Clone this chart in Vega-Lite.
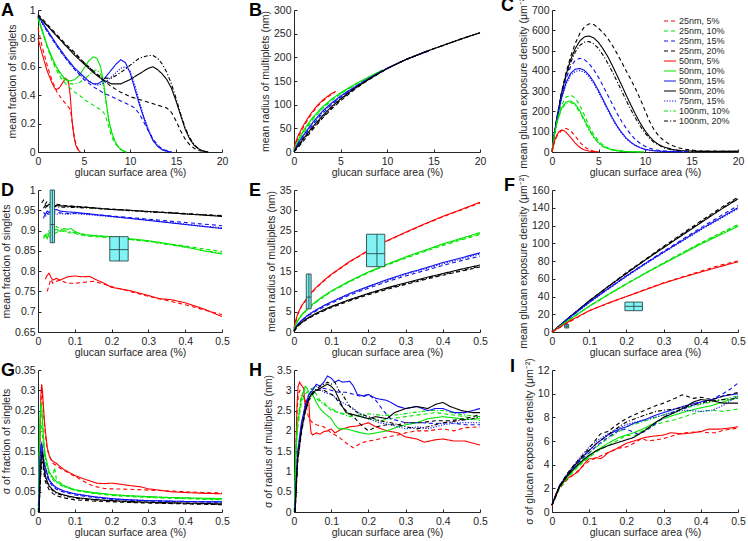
{
"$schema":"https://vega.github.io/schema/vega-lite/v6.json",
"padding":{"left":1,"top":-7,"right":2,"bottom":2},
"background":"white",
"bounds":"flush",
"columns":3,
"spacing":{"row":38,"column":72},
"resolve":{"scale":{"color":"independent","strokeDash":"independent"},"legend":{"color":"independent","strokeDash":"independent"}},
"datasets":{
"A":[
{"s":"25nm, 5%","x":0,"y":0.87},{"s":"25nm, 5%","x":0.5,"y":0.73},{"s":"25nm, 5%","x":1,"y":0.61},{"s":"25nm, 5%","x":1.5,"y":0.51},{"s":"25nm, 5%","x":2,"y":0.43},{"s":"25nm, 5%","x":2.5,"y":0.38},{"s":"25nm, 5%","x":3,"y":0.34},{"s":"25nm, 5%","x":3.4,"y":0.31},{"s":"25nm, 5%","x":3.6,"y":0.27},{"s":"25nm, 5%","x":3.8,"y":0.17},{"s":"25nm, 5%","x":4,"y":0.09},{"s":"25nm, 5%","x":4.2,"y":0.04},{"s":"25nm, 5%","x":4.4,"y":0.015},{"s":"25nm, 5%","x":4.6,"y":0},
{"s":"50nm, 5%","x":0,"y":0.8},{"s":"50nm, 5%","x":0.5,"y":0.68},{"s":"50nm, 5%","x":1,"y":0.57},{"s":"50nm, 5%","x":1.5,"y":0.49},{"s":"50nm, 5%","x":1.8,"y":0.45},{"s":"50nm, 5%","x":2,"y":0.44},{"s":"50nm, 5%","x":2.3,"y":0.45},{"s":"50nm, 5%","x":2.6,"y":0.48},{"s":"50nm, 5%","x":3,"y":0.52},{"s":"50nm, 5%","x":3.3,"y":0.5},{"s":"50nm, 5%","x":3.5,"y":0.4},{"s":"50nm, 5%","x":3.7,"y":0.22},{"s":"50nm, 5%","x":3.9,"y":0.11},{"s":"50nm, 5%","x":4.1,"y":0.05},{"s":"50nm, 5%","x":4.3,"y":0.02},{"s":"50nm, 5%","x":4.6,"y":0},
{"s":"25nm, 10%","x":0,"y":0.95},{"s":"25nm, 10%","x":0.5,"y":0.84},{"s":"25nm, 10%","x":1,"y":0.74},{"s":"25nm, 10%","x":1.5,"y":0.65},{"s":"25nm, 10%","x":2,"y":0.58},{"s":"25nm, 10%","x":2.5,"y":0.52},{"s":"25nm, 10%","x":3,"y":0.48},{"s":"25nm, 10%","x":3.5,"y":0.45},{"s":"25nm, 10%","x":4,"y":0.42},{"s":"25nm, 10%","x":4.5,"y":0.4},{"s":"25nm, 10%","x":5,"y":0.37},{"s":"25nm, 10%","x":5.5,"y":0.35},{"s":"25nm, 10%","x":6,"y":0.33},{"s":"25nm, 10%","x":6.5,"y":0.31},{"s":"25nm, 10%","x":7,"y":0.29},{"s":"25nm, 10%","x":7.3,"y":0.26},{"s":"25nm, 10%","x":7.6,"y":0.2},{"s":"25nm, 10%","x":7.9,"y":0.13},{"s":"25nm, 10%","x":8.2,"y":0.08},{"s":"25nm, 10%","x":8.5,"y":0.05},{"s":"25nm, 10%","x":9,"y":0.015},{"s":"25nm, 10%","x":9.5,"y":0},
{"s":"50nm, 10%","x":0,"y":0.95},{"s":"50nm, 10%","x":0.5,"y":0.85},{"s":"50nm, 10%","x":1,"y":0.75},{"s":"50nm, 10%","x":1.5,"y":0.67},{"s":"50nm, 10%","x":2,"y":0.6},{"s":"50nm, 10%","x":2.5,"y":0.55},{"s":"50nm, 10%","x":3,"y":0.51},{"s":"50nm, 10%","x":3.5,"y":0.5},{"s":"50nm, 10%","x":4,"y":0.51},{"s":"50nm, 10%","x":4.5,"y":0.54},{"s":"50nm, 10%","x":5,"y":0.59},{"s":"50nm, 10%","x":5.5,"y":0.64},{"s":"50nm, 10%","x":6,"y":0.67},{"s":"50nm, 10%","x":6.4,"y":0.66},{"s":"50nm, 10%","x":6.8,"y":0.6},{"s":"50nm, 10%","x":7.1,"y":0.5},{"s":"50nm, 10%","x":7.4,"y":0.36},{"s":"50nm, 10%","x":7.7,"y":0.22},{"s":"50nm, 10%","x":8,"y":0.14},{"s":"50nm, 10%","x":8.4,"y":0.07},{"s":"50nm, 10%","x":8.8,"y":0.03},{"s":"50nm, 10%","x":9.2,"y":0.01},{"s":"50nm, 10%","x":9.6,"y":0},
{"s":"100nm, 10%","x":0,"y":0.94},{"s":"100nm, 10%","x":0.5,"y":0.84},{"s":"100nm, 10%","x":1,"y":0.74},{"s":"100nm, 10%","x":1.5,"y":0.66},{"s":"100nm, 10%","x":2,"y":0.59},{"s":"100nm, 10%","x":2.5,"y":0.54},{"s":"100nm, 10%","x":3,"y":0.5},{"s":"100nm, 10%","x":3.5,"y":0.48},{"s":"100nm, 10%","x":4,"y":0.48},{"s":"100nm, 10%","x":4.5,"y":0.49},{"s":"100nm, 10%","x":5,"y":0.51},{"s":"100nm, 10%","x":5.5,"y":0.54},{"s":"100nm, 10%","x":6,"y":0.57},{"s":"100nm, 10%","x":6.4,"y":0.58},{"s":"100nm, 10%","x":6.8,"y":0.55},{"s":"100nm, 10%","x":7.1,"y":0.47},{"s":"100nm, 10%","x":7.4,"y":0.35},{"s":"100nm, 10%","x":7.7,"y":0.22},{"s":"100nm, 10%","x":8,"y":0.14},{"s":"100nm, 10%","x":8.4,"y":0.07},{"s":"100nm, 10%","x":8.8,"y":0.03},{"s":"100nm, 10%","x":9.2,"y":0.01},{"s":"100nm, 10%","x":9.6,"y":0},
{"s":"25nm, 15%","x":0,"y":0.96},{"s":"25nm, 15%","x":1,"y":0.85},{"s":"25nm, 15%","x":2,"y":0.75},{"s":"25nm, 15%","x":3,"y":0.66},{"s":"25nm, 15%","x":4,"y":0.58},{"s":"25nm, 15%","x":5,"y":0.51},{"s":"25nm, 15%","x":6,"y":0.46},{"s":"25nm, 15%","x":7,"y":0.42},{"s":"25nm, 15%","x":8,"y":0.39},{"s":"25nm, 15%","x":9,"y":0.36},{"s":"25nm, 15%","x":10,"y":0.33},{"s":"25nm, 15%","x":10.5,"y":0.31},{"s":"25nm, 15%","x":11,"y":0.27},{"s":"25nm, 15%","x":11.5,"y":0.21},{"s":"25nm, 15%","x":12,"y":0.15},{"s":"25nm, 15%","x":12.5,"y":0.09},{"s":"25nm, 15%","x":13,"y":0.05},{"s":"25nm, 15%","x":13.5,"y":0.02},{"s":"25nm, 15%","x":14,"y":0.01},{"s":"25nm, 15%","x":14.5,"y":0},
{"s":"50nm, 15%","x":0,"y":0.96},{"s":"50nm, 15%","x":1,"y":0.86},{"s":"50nm, 15%","x":2,"y":0.76},{"s":"50nm, 15%","x":3,"y":0.67},{"s":"50nm, 15%","x":4,"y":0.59},{"s":"50nm, 15%","x":5,"y":0.53},{"s":"50nm, 15%","x":5.5,"y":0.5},{"s":"50nm, 15%","x":6,"y":0.48},{"s":"50nm, 15%","x":6.5,"y":0.48},{"s":"50nm, 15%","x":7,"y":0.5},{"s":"50nm, 15%","x":7.5,"y":0.54},{"s":"50nm, 15%","x":8,"y":0.58},{"s":"50nm, 15%","x":8.5,"y":0.62},{"s":"50nm, 15%","x":9,"y":0.65},{"s":"50nm, 15%","x":9.5,"y":0.63},{"s":"50nm, 15%","x":10,"y":0.56},{"s":"50nm, 15%","x":10.5,"y":0.45},{"s":"50nm, 15%","x":11,"y":0.34},{"s":"50nm, 15%","x":11.5,"y":0.24},{"s":"50nm, 15%","x":12,"y":0.15},{"s":"50nm, 15%","x":12.5,"y":0.08},{"s":"50nm, 15%","x":13,"y":0.04},{"s":"50nm, 15%","x":13.5,"y":0.015},{"s":"50nm, 15%","x":14,"y":0.005},{"s":"50nm, 15%","x":14.5,"y":0},
{"s":"75nm, 15%","x":0,"y":0.95},{"s":"75nm, 15%","x":1,"y":0.85},{"s":"75nm, 15%","x":2,"y":0.75},{"s":"75nm, 15%","x":3,"y":0.66},{"s":"75nm, 15%","x":4,"y":0.58},{"s":"75nm, 15%","x":5,"y":0.52},{"s":"75nm, 15%","x":6,"y":0.48},{"s":"75nm, 15%","x":6.5,"y":0.47},{"s":"75nm, 15%","x":7,"y":0.48},{"s":"75nm, 15%","x":7.5,"y":0.5},{"s":"75nm, 15%","x":8,"y":0.53},{"s":"75nm, 15%","x":8.5,"y":0.56},{"s":"75nm, 15%","x":9,"y":0.59},{"s":"75nm, 15%","x":9.5,"y":0.6},{"s":"75nm, 15%","x":10,"y":0.57},{"s":"75nm, 15%","x":10.5,"y":0.48},{"s":"75nm, 15%","x":11,"y":0.36},{"s":"75nm, 15%","x":11.5,"y":0.25},{"s":"75nm, 15%","x":12,"y":0.16},{"s":"75nm, 15%","x":12.5,"y":0.09},{"s":"75nm, 15%","x":13,"y":0.045},{"s":"75nm, 15%","x":13.5,"y":0.02},{"s":"75nm, 15%","x":14,"y":0.005},{"s":"75nm, 15%","x":14.5,"y":0},
{"s":"25nm, 20%","x":0,"y":0.97},{"s":"25nm, 20%","x":1,"y":0.9},{"s":"25nm, 20%","x":2,"y":0.83},{"s":"25nm, 20%","x":3,"y":0.76},{"s":"25nm, 20%","x":4,"y":0.7},{"s":"25nm, 20%","x":5,"y":0.63},{"s":"25nm, 20%","x":6,"y":0.57},{"s":"25nm, 20%","x":7,"y":0.51},{"s":"25nm, 20%","x":8,"y":0.46},{"s":"25nm, 20%","x":9,"y":0.42},{"s":"25nm, 20%","x":10,"y":0.39},{"s":"25nm, 20%","x":11,"y":0.37},{"s":"25nm, 20%","x":12,"y":0.35},{"s":"25nm, 20%","x":13,"y":0.33},{"s":"25nm, 20%","x":14,"y":0.31},{"s":"25nm, 20%","x":14.5,"y":0.28},{"s":"25nm, 20%","x":15,"y":0.22},{"s":"25nm, 20%","x":15.5,"y":0.15},{"s":"25nm, 20%","x":16,"y":0.09},{"s":"25nm, 20%","x":16.5,"y":0.05},{"s":"25nm, 20%","x":17,"y":0.025},{"s":"25nm, 20%","x":17.5,"y":0.01},{"s":"25nm, 20%","x":18,"y":0.003},{"s":"25nm, 20%","x":18.5,"y":0},
{"s":"50nm, 20%","x":0,"y":0.96},{"s":"50nm, 20%","x":1,"y":0.89},{"s":"50nm, 20%","x":2,"y":0.82},{"s":"50nm, 20%","x":3,"y":0.75},{"s":"50nm, 20%","x":4,"y":0.68},{"s":"50nm, 20%","x":5,"y":0.62},{"s":"50nm, 20%","x":6,"y":0.56},{"s":"50nm, 20%","x":7,"y":0.51},{"s":"50nm, 20%","x":8,"y":0.48},{"s":"50nm, 20%","x":9,"y":0.48},{"s":"50nm, 20%","x":10,"y":0.51},{"s":"50nm, 20%","x":11,"y":0.55},{"s":"50nm, 20%","x":12,"y":0.59},{"s":"50nm, 20%","x":12.5,"y":0.6},{"s":"50nm, 20%","x":13,"y":0.58},{"s":"50nm, 20%","x":13.5,"y":0.55},{"s":"50nm, 20%","x":14,"y":0.51},{"s":"50nm, 20%","x":14.5,"y":0.45},{"s":"50nm, 20%","x":15,"y":0.36},{"s":"50nm, 20%","x":15.5,"y":0.26},{"s":"50nm, 20%","x":16,"y":0.16},{"s":"50nm, 20%","x":16.5,"y":0.09},{"s":"50nm, 20%","x":17,"y":0.045},{"s":"50nm, 20%","x":17.5,"y":0.02},{"s":"50nm, 20%","x":18,"y":0.005},{"s":"50nm, 20%","x":18.5,"y":0},
{"s":"100nm, 20%","x":0,"y":0.96},{"s":"100nm, 20%","x":1,"y":0.89},{"s":"100nm, 20%","x":2,"y":0.82},{"s":"100nm, 20%","x":3,"y":0.75},{"s":"100nm, 20%","x":4,"y":0.69},{"s":"100nm, 20%","x":5,"y":0.63},{"s":"100nm, 20%","x":6,"y":0.57},{"s":"100nm, 20%","x":7,"y":0.52},{"s":"100nm, 20%","x":8,"y":0.52},{"s":"100nm, 20%","x":9,"y":0.56},{"s":"100nm, 20%","x":10,"y":0.61},{"s":"100nm, 20%","x":11,"y":0.66},{"s":"100nm, 20%","x":12,"y":0.68},{"s":"100nm, 20%","x":12.5,"y":0.68},{"s":"100nm, 20%","x":13,"y":0.66},{"s":"100nm, 20%","x":13.5,"y":0.62},{"s":"100nm, 20%","x":14,"y":0.56},{"s":"100nm, 20%","x":14.5,"y":0.48},{"s":"100nm, 20%","x":15,"y":0.38},{"s":"100nm, 20%","x":15.5,"y":0.27},{"s":"100nm, 20%","x":16,"y":0.17},{"s":"100nm, 20%","x":16.5,"y":0.1},{"s":"100nm, 20%","x":17,"y":0.05},{"s":"100nm, 20%","x":17.5,"y":0.02},{"s":"100nm, 20%","x":18,"y":0.007},{"s":"100nm, 20%","x":18.5,"y":0}
],
"B":[
{"s":"50nm, 5%","x":0,"y":8},{"s":"50nm, 5%","x":0.25,"y":25},{"s":"50nm, 5%","x":0.5,"y":37},{"s":"50nm, 5%","x":1,"y":56},{"s":"50nm, 5%","x":1.5,"y":72},{"s":"50nm, 5%","x":2,"y":86},{"s":"50nm, 5%","x":2.5,"y":98},{"s":"50nm, 5%","x":3,"y":108},{"s":"50nm, 5%","x":3.5,"y":116},{"s":"50nm, 5%","x":4,"y":123},{"s":"50nm, 5%","x":4.5,"y":128},
{"s":"25nm, 5%","x":0,"y":6},{"s":"25nm, 5%","x":0.25,"y":21},{"s":"25nm, 5%","x":0.5,"y":33},{"s":"25nm, 5%","x":1,"y":52},{"s":"25nm, 5%","x":1.5,"y":69},{"s":"25nm, 5%","x":2,"y":83},{"s":"25nm, 5%","x":2.5,"y":96},{"s":"25nm, 5%","x":3,"y":106},{"s":"25nm, 5%","x":3.5,"y":114},{"s":"25nm, 5%","x":4,"y":121},{"s":"25nm, 5%","x":4.4,"y":126},
{"s":"50nm, 10%","x":0,"y":4},{"s":"50nm, 10%","x":0.5,"y":27},{"s":"50nm, 10%","x":1,"y":45},{"s":"50nm, 10%","x":2,"y":73},{"s":"50nm, 10%","x":3,"y":94},{"s":"50nm, 10%","x":4,"y":111},{"s":"50nm, 10%","x":5,"y":125},{"s":"50nm, 10%","x":6,"y":137},{"s":"50nm, 10%","x":7,"y":148},{"s":"50nm, 10%","x":8,"y":158},{"s":"50nm, 10%","x":9,"y":168},{"s":"50nm, 10%","x":9.5,"y":173},
{"s":"25nm, 10%","x":0,"y":3},{"s":"25nm, 10%","x":0.5,"y":23},{"s":"25nm, 10%","x":1,"y":40},{"s":"25nm, 10%","x":2,"y":68},{"s":"25nm, 10%","x":3,"y":90},{"s":"25nm, 10%","x":4,"y":108},{"s":"25nm, 10%","x":5,"y":122},{"s":"25nm, 10%","x":6,"y":135},{"s":"25nm, 10%","x":7,"y":146},{"s":"25nm, 10%","x":8,"y":157},{"s":"25nm, 10%","x":9,"y":167},{"s":"25nm, 10%","x":9.5,"y":172},
{"s":"100nm, 10%","x":0,"y":3},{"s":"100nm, 10%","x":0.5,"y":25},{"s":"100nm, 10%","x":1,"y":43},{"s":"100nm, 10%","x":2,"y":71},{"s":"100nm, 10%","x":3,"y":92},{"s":"100nm, 10%","x":4,"y":110},{"s":"100nm, 10%","x":5,"y":124},{"s":"100nm, 10%","x":6,"y":136},{"s":"100nm, 10%","x":7,"y":147},{"s":"100nm, 10%","x":8,"y":158},{"s":"100nm, 10%","x":9,"y":168},{"s":"100nm, 10%","x":9.5,"y":173},
{"s":"50nm, 15%","x":0,"y":2},{"s":"50nm, 15%","x":0.5,"y":20},{"s":"50nm, 15%","x":1,"y":35},{"s":"50nm, 15%","x":2,"y":62},{"s":"50nm, 15%","x":3,"y":85},{"s":"50nm, 15%","x":4,"y":103},{"s":"50nm, 15%","x":5,"y":118},{"s":"50nm, 15%","x":6,"y":131},{"s":"50nm, 15%","x":7,"y":143},{"s":"50nm, 15%","x":8,"y":155},{"s":"50nm, 15%","x":9,"y":166},{"s":"50nm, 15%","x":10,"y":177},{"s":"50nm, 15%","x":11,"y":186},{"s":"50nm, 15%","x":12,"y":195},{"s":"50nm, 15%","x":13,"y":203},{"s":"50nm, 15%","x":14,"y":210},{"s":"50nm, 15%","x":14.5,"y":213},
{"s":"25nm, 15%","x":0,"y":1},{"s":"25nm, 15%","x":0.5,"y":16},{"s":"25nm, 15%","x":1,"y":31},{"s":"25nm, 15%","x":2,"y":57},{"s":"25nm, 15%","x":3,"y":80},{"s":"25nm, 15%","x":4,"y":99},{"s":"25nm, 15%","x":5,"y":115},{"s":"25nm, 15%","x":6,"y":129},{"s":"25nm, 15%","x":7,"y":142},{"s":"25nm, 15%","x":8,"y":154},{"s":"25nm, 15%","x":9,"y":165},{"s":"25nm, 15%","x":10,"y":176},{"s":"25nm, 15%","x":12,"y":195},{"s":"25nm, 15%","x":14,"y":210},{"s":"25nm, 15%","x":14.5,"y":213},
{"s":"75nm, 15%","x":0,"y":2},{"s":"75nm, 15%","x":0.5,"y":19},{"s":"75nm, 15%","x":1,"y":34},{"s":"75nm, 15%","x":2,"y":60},{"s":"75nm, 15%","x":3,"y":83},{"s":"75nm, 15%","x":4,"y":101},{"s":"75nm, 15%","x":5,"y":117},{"s":"75nm, 15%","x":6,"y":130},{"s":"75nm, 15%","x":7,"y":143},{"s":"75nm, 15%","x":8,"y":155},{"s":"75nm, 15%","x":9,"y":166},{"s":"75nm, 15%","x":10,"y":177},{"s":"75nm, 15%","x":12,"y":195},{"s":"75nm, 15%","x":14,"y":210},
{"s":"50nm, 20%","x":0,"y":1},{"s":"50nm, 20%","x":0.5,"y":15},{"s":"50nm, 20%","x":1,"y":28},{"s":"50nm, 20%","x":2,"y":53},{"s":"50nm, 20%","x":3,"y":75},{"s":"50nm, 20%","x":4,"y":95},{"s":"50nm, 20%","x":5,"y":112},{"s":"50nm, 20%","x":6,"y":127},{"s":"50nm, 20%","x":7,"y":141},{"s":"50nm, 20%","x":8,"y":153},{"s":"50nm, 20%","x":9,"y":165},{"s":"50nm, 20%","x":10,"y":176},{"s":"50nm, 20%","x":12,"y":195},{"s":"50nm, 20%","x":14,"y":211},{"s":"50nm, 20%","x":16,"y":225},{"s":"50nm, 20%","x":18,"y":239},{"s":"50nm, 20%","x":20,"y":252},
{"s":"25nm, 20%","x":0,"y":0},{"s":"25nm, 20%","x":0.5,"y":11},{"s":"25nm, 20%","x":1,"y":23},{"s":"25nm, 20%","x":2,"y":47},{"s":"25nm, 20%","x":3,"y":70},{"s":"25nm, 20%","x":4,"y":90},{"s":"25nm, 20%","x":5,"y":108},{"s":"25nm, 20%","x":6,"y":124},{"s":"25nm, 20%","x":7,"y":139},{"s":"25nm, 20%","x":8,"y":152},{"s":"25nm, 20%","x":9,"y":164},{"s":"25nm, 20%","x":10,"y":176},{"s":"25nm, 20%","x":12,"y":195},{"s":"25nm, 20%","x":14,"y":211},{"s":"25nm, 20%","x":16,"y":225},{"s":"25nm, 20%","x":18,"y":239},{"s":"25nm, 20%","x":20,"y":252},
{"s":"100nm, 20%","x":0,"y":1},{"s":"100nm, 20%","x":0.5,"y":13},{"s":"100nm, 20%","x":1,"y":26},{"s":"100nm, 20%","x":2,"y":50},{"s":"100nm, 20%","x":3,"y":72},{"s":"100nm, 20%","x":4,"y":92},{"s":"100nm, 20%","x":5,"y":110},{"s":"100nm, 20%","x":6,"y":126},{"s":"100nm, 20%","x":7,"y":140},{"s":"100nm, 20%","x":8,"y":153},{"s":"100nm, 20%","x":9,"y":165},{"s":"100nm, 20%","x":10,"y":176},{"s":"100nm, 20%","x":12,"y":195},{"s":"100nm, 20%","x":14,"y":211},{"s":"100nm, 20%","x":16,"y":225},{"s":"100nm, 20%","x":18,"y":239},{"s":"100nm, 20%","x":20,"y":252}
],
"C":[
{"s":"25nm, 20%","x":0,"y":0},{"s":"25nm, 20%","x":0.25,"y":90},{"s":"25nm, 20%","x":0.5,"y":165},{"s":"25nm, 20%","x":1,"y":290},{"s":"25nm, 20%","x":1.5,"y":390},{"s":"25nm, 20%","x":2,"y":470},{"s":"25nm, 20%","x":2.5,"y":535},{"s":"25nm, 20%","x":3,"y":585},{"s":"25nm, 20%","x":3.5,"y":618},{"s":"25nm, 20%","x":4,"y":632},{"s":"25nm, 20%","x":4.5,"y":628},{"s":"25nm, 20%","x":5,"y":610},{"s":"25nm, 20%","x":5.5,"y":588},{"s":"25nm, 20%","x":6,"y":560},{"s":"25nm, 20%","x":6.5,"y":525},{"s":"25nm, 20%","x":7,"y":485},{"s":"25nm, 20%","x":7.5,"y":442},{"s":"25nm, 20%","x":8,"y":398},{"s":"25nm, 20%","x":8.5,"y":355},{"s":"25nm, 20%","x":9,"y":310},{"s":"25nm, 20%","x":9.5,"y":260},{"s":"25nm, 20%","x":10,"y":205},{"s":"25nm, 20%","x":10.5,"y":150},{"s":"25nm, 20%","x":11,"y":108},{"s":"25nm, 20%","x":11.5,"y":78},{"s":"25nm, 20%","x":12,"y":57},{"s":"25nm, 20%","x":12.5,"y":42},{"s":"25nm, 20%","x":13,"y":31},{"s":"25nm, 20%","x":13.5,"y":22},{"s":"25nm, 20%","x":14,"y":16},{"s":"25nm, 20%","x":15,"y":9},{"s":"25nm, 20%","x":16,"y":5},{"s":"25nm, 20%","x":18,"y":3},{"s":"25nm, 20%","x":20,"y":3},
{"s":"50nm, 20%","x":0,"y":0},{"s":"50nm, 20%","x":0.25,"y":88},{"s":"50nm, 20%","x":0.5,"y":160},{"s":"50nm, 20%","x":1,"y":285},{"s":"50nm, 20%","x":1.5,"y":380},{"s":"50nm, 20%","x":2,"y":455},{"s":"50nm, 20%","x":2.5,"y":510},{"s":"50nm, 20%","x":3,"y":548},{"s":"50nm, 20%","x":3.5,"y":568},{"s":"50nm, 20%","x":4,"y":572},{"s":"50nm, 20%","x":4.5,"y":562},{"s":"50nm, 20%","x":5,"y":540},{"s":"50nm, 20%","x":5.5,"y":508},{"s":"50nm, 20%","x":6,"y":470},{"s":"50nm, 20%","x":6.5,"y":425},{"s":"50nm, 20%","x":7,"y":377},{"s":"50nm, 20%","x":7.5,"y":328},{"s":"50nm, 20%","x":8,"y":278},{"s":"50nm, 20%","x":8.5,"y":230},{"s":"50nm, 20%","x":9,"y":184},{"s":"50nm, 20%","x":9.5,"y":142},{"s":"50nm, 20%","x":10,"y":105},{"s":"50nm, 20%","x":10.5,"y":75},{"s":"50nm, 20%","x":11,"y":52},{"s":"50nm, 20%","x":11.5,"y":36},{"s":"50nm, 20%","x":12,"y":25},{"s":"50nm, 20%","x":13,"y":12},{"s":"50nm, 20%","x":14,"y":6},{"s":"50nm, 20%","x":16,"y":3},{"s":"50nm, 20%","x":20,"y":3},
{"s":"100nm, 20%","x":0,"y":0},{"s":"100nm, 20%","x":0.25,"y":88},{"s":"100nm, 20%","x":0.5,"y":158},{"s":"100nm, 20%","x":1,"y":280},{"s":"100nm, 20%","x":1.5,"y":372},{"s":"100nm, 20%","x":2,"y":440},{"s":"100nm, 20%","x":2.5,"y":493},{"s":"100nm, 20%","x":3,"y":526},{"s":"100nm, 20%","x":3.5,"y":542},{"s":"100nm, 20%","x":4,"y":544},{"s":"100nm, 20%","x":4.5,"y":533},{"s":"100nm, 20%","x":5,"y":510},{"s":"100nm, 20%","x":5.5,"y":477},{"s":"100nm, 20%","x":6,"y":438},{"s":"100nm, 20%","x":6.5,"y":394},{"s":"100nm, 20%","x":7,"y":347},{"s":"100nm, 20%","x":7.5,"y":300},{"s":"100nm, 20%","x":8,"y":252},{"s":"100nm, 20%","x":8.5,"y":207},{"s":"100nm, 20%","x":9,"y":165},{"s":"100nm, 20%","x":9.5,"y":127},{"s":"100nm, 20%","x":10,"y":94},{"s":"100nm, 20%","x":10.5,"y":67},{"s":"100nm, 20%","x":11,"y":46},{"s":"100nm, 20%","x":12,"y":21},{"s":"100nm, 20%","x":13,"y":10},{"s":"100nm, 20%","x":14,"y":5},{"s":"100nm, 20%","x":16,"y":3},{"s":"100nm, 20%","x":20,"y":3},
{"s":"25nm, 15%","x":0,"y":0},{"s":"25nm, 15%","x":0.25,"y":85},{"s":"25nm, 15%","x":0.5,"y":155},{"s":"25nm, 15%","x":1,"y":270},{"s":"25nm, 15%","x":1.5,"y":360},{"s":"25nm, 15%","x":2,"y":420},{"s":"25nm, 15%","x":2.5,"y":452},{"s":"25nm, 15%","x":3,"y":462},{"s":"25nm, 15%","x":3.5,"y":455},{"s":"25nm, 15%","x":4,"y":435},{"s":"25nm, 15%","x":4.5,"y":405},{"s":"25nm, 15%","x":5,"y":368},{"s":"25nm, 15%","x":5.5,"y":325},{"s":"25nm, 15%","x":6,"y":280},{"s":"25nm, 15%","x":6.5,"y":235},{"s":"25nm, 15%","x":7,"y":190},{"s":"25nm, 15%","x":7.5,"y":150},{"s":"25nm, 15%","x":8,"y":115},{"s":"25nm, 15%","x":8.5,"y":85},{"s":"25nm, 15%","x":9,"y":60},{"s":"25nm, 15%","x":9.5,"y":42},{"s":"25nm, 15%","x":10,"y":28},{"s":"25nm, 15%","x":11,"y":11},{"s":"25nm, 15%","x":12,"y":5},{"s":"25nm, 15%","x":13,"y":3},{"s":"25nm, 15%","x":15,"y":2},
{"s":"50nm, 15%","x":0,"y":0},{"s":"50nm, 15%","x":0.25,"y":85},{"s":"50nm, 15%","x":0.5,"y":152},{"s":"50nm, 15%","x":1,"y":262},{"s":"50nm, 15%","x":1.5,"y":340},{"s":"50nm, 15%","x":2,"y":388},{"s":"50nm, 15%","x":2.5,"y":408},{"s":"50nm, 15%","x":3,"y":412},{"s":"50nm, 15%","x":3.5,"y":402},{"s":"50nm, 15%","x":4,"y":378},{"s":"50nm, 15%","x":4.5,"y":345},{"s":"50nm, 15%","x":5,"y":303},{"s":"50nm, 15%","x":5.5,"y":258},{"s":"50nm, 15%","x":6,"y":212},{"s":"50nm, 15%","x":6.5,"y":168},{"s":"50nm, 15%","x":7,"y":128},{"s":"50nm, 15%","x":7.5,"y":95},{"s":"50nm, 15%","x":8,"y":68},{"s":"50nm, 15%","x":8.5,"y":47},{"s":"50nm, 15%","x":9,"y":32},{"s":"50nm, 15%","x":9.5,"y":21},{"s":"50nm, 15%","x":10,"y":13},{"s":"50nm, 15%","x":11,"y":6},{"s":"50nm, 15%","x":12,"y":3},{"s":"50nm, 15%","x":14,"y":1},
{"s":"75nm, 15%","x":0,"y":0},{"s":"75nm, 15%","x":0.5,"y":150},{"s":"75nm, 15%","x":1,"y":258},{"s":"75nm, 15%","x":1.5,"y":333},{"s":"75nm, 15%","x":2,"y":378},{"s":"75nm, 15%","x":2.5,"y":397},{"s":"75nm, 15%","x":3,"y":401},{"s":"75nm, 15%","x":3.5,"y":393},{"s":"75nm, 15%","x":4,"y":370},{"s":"75nm, 15%","x":4.5,"y":336},{"s":"75nm, 15%","x":5,"y":295},{"s":"75nm, 15%","x":5.5,"y":250},{"s":"75nm, 15%","x":6,"y":205},{"s":"75nm, 15%","x":6.5,"y":162},{"s":"75nm, 15%","x":7,"y":123},{"s":"75nm, 15%","x":7.5,"y":91},{"s":"75nm, 15%","x":8,"y":65},{"s":"75nm, 15%","x":8.5,"y":45},{"s":"75nm, 15%","x":9,"y":30},{"s":"75nm, 15%","x":10,"y":12},{"s":"75nm, 15%","x":11,"y":5},{"s":"75nm, 15%","x":12,"y":2},{"s":"75nm, 15%","x":14,"y":1},
{"s":"25nm, 10%","x":0,"y":0},{"s":"25nm, 10%","x":0.25,"y":80},{"s":"25nm, 10%","x":0.5,"y":145},{"s":"25nm, 10%","x":1,"y":230},{"s":"25nm, 10%","x":1.5,"y":270},{"s":"25nm, 10%","x":2,"y":281},{"s":"25nm, 10%","x":2.5,"y":266},{"s":"25nm, 10%","x":3,"y":230},{"s":"25nm, 10%","x":3.5,"y":180},{"s":"25nm, 10%","x":4,"y":128},{"s":"25nm, 10%","x":4.5,"y":85},{"s":"25nm, 10%","x":5,"y":55},{"s":"25nm, 10%","x":5.5,"y":34},{"s":"25nm, 10%","x":6,"y":21},{"s":"25nm, 10%","x":6.5,"y":13},{"s":"25nm, 10%","x":7,"y":8},{"s":"25nm, 10%","x":8,"y":3},{"s":"25nm, 10%","x":9,"y":1},{"s":"25nm, 10%","x":10,"y":0.5},
{"s":"50nm, 10%","x":0,"y":0},{"s":"50nm, 10%","x":0.25,"y":78},{"s":"50nm, 10%","x":0.5,"y":140},{"s":"50nm, 10%","x":1,"y":215},{"s":"50nm, 10%","x":1.5,"y":246},{"s":"50nm, 10%","x":2,"y":252},{"s":"50nm, 10%","x":2.5,"y":236},{"s":"50nm, 10%","x":3,"y":203},{"s":"50nm, 10%","x":3.5,"y":158},{"s":"50nm, 10%","x":4,"y":112},{"s":"50nm, 10%","x":4.5,"y":74},{"s":"50nm, 10%","x":5,"y":46},{"s":"50nm, 10%","x":5.5,"y":28},{"s":"50nm, 10%","x":6,"y":17},{"s":"50nm, 10%","x":6.5,"y":10},{"s":"50nm, 10%","x":7,"y":6},{"s":"50nm, 10%","x":8,"y":2},{"s":"50nm, 10%","x":9.5,"y":0.5},
{"s":"100nm, 10%","x":0,"y":0},{"s":"100nm, 10%","x":0.25,"y":77},{"s":"100nm, 10%","x":0.5,"y":138},{"s":"100nm, 10%","x":1,"y":210},{"s":"100nm, 10%","x":1.5,"y":240},{"s":"100nm, 10%","x":2,"y":245},{"s":"100nm, 10%","x":2.5,"y":228},{"s":"100nm, 10%","x":3,"y":195},{"s":"100nm, 10%","x":3.5,"y":150},{"s":"100nm, 10%","x":4,"y":106},{"s":"100nm, 10%","x":4.5,"y":70},{"s":"100nm, 10%","x":5,"y":43},{"s":"100nm, 10%","x":5.5,"y":26},{"s":"100nm, 10%","x":6,"y":16},{"s":"100nm, 10%","x":7,"y":5},{"s":"100nm, 10%","x":8,"y":2},{"s":"100nm, 10%","x":9.5,"y":0.5},
{"s":"25nm, 5%","x":0,"y":0},{"s":"25nm, 5%","x":0.25,"y":45},{"s":"25nm, 5%","x":0.5,"y":75},{"s":"25nm, 5%","x":1,"y":105},{"s":"25nm, 5%","x":1.5,"y":117},{"s":"25nm, 5%","x":2,"y":105},{"s":"25nm, 5%","x":2.5,"y":78},{"s":"25nm, 5%","x":3,"y":48},{"s":"25nm, 5%","x":3.5,"y":25},{"s":"25nm, 5%","x":4,"y":11},{"s":"25nm, 5%","x":4.5,"y":4},{"s":"25nm, 5%","x":5,"y":1.5},
{"s":"50nm, 5%","x":0,"y":0},{"s":"50nm, 5%","x":0.25,"y":52},{"s":"50nm, 5%","x":0.5,"y":82},{"s":"50nm, 5%","x":0.75,"y":100},{"s":"50nm, 5%","x":1,"y":108},{"s":"50nm, 5%","x":1.25,"y":106},{"s":"50nm, 5%","x":1.5,"y":98},{"s":"50nm, 5%","x":2,"y":72},{"s":"50nm, 5%","x":2.5,"y":44},{"s":"50nm, 5%","x":3,"y":22},{"s":"50nm, 5%","x":3.5,"y":10},{"s":"50nm, 5%","x":4,"y":4},{"s":"50nm, 5%","x":4.5,"y":2},{"s":"50nm, 5%","x":5,"y":1}
],
"D":[
{"s":"25nm, 20%","x":0.01,"y":0.968},{"s":"25nm, 20%","x":0.015,"y":0.975},{"s":"25nm, 20%","x":0.02,"y":0.965},{"s":"25nm, 20%","x":0.025,"y":0.972},{"s":"25nm, 20%","x":0.03,"y":0.97},{"s":"25nm, 20%","x":0.04,"y":0.966},{"s":"25nm, 20%","x":0.05,"y":0.965},{"s":"25nm, 20%","x":0.07,"y":0.962},{"s":"25nm, 20%","x":0.1,"y":0.96},{"s":"25nm, 20%","x":0.13,"y":0.958},{"s":"25nm, 20%","x":0.16,"y":0.955},{"s":"25nm, 20%","x":0.2,"y":0.953},{"s":"25nm, 20%","x":0.25,"y":0.95},{"s":"25nm, 20%","x":0.3,"y":0.947},{"s":"25nm, 20%","x":0.35,"y":0.945},{"s":"25nm, 20%","x":0.4,"y":0.942},{"s":"25nm, 20%","x":0.45,"y":0.939},{"s":"25nm, 20%","x":0.5,"y":0.936},
{"s":"50nm, 20%","x":0.015,"y":0.955},{"s":"50nm, 20%","x":0.02,"y":0.962},{"s":"50nm, 20%","x":0.025,"y":0.96},{"s":"50nm, 20%","x":0.03,"y":0.965},{"s":"50nm, 20%","x":0.04,"y":0.962},{"s":"50nm, 20%","x":0.06,"y":0.961},{"s":"50nm, 20%","x":0.08,"y":0.96},{"s":"50nm, 20%","x":0.1,"y":0.959},{"s":"50nm, 20%","x":0.15,"y":0.956},{"s":"50nm, 20%","x":0.2,"y":0.952},{"s":"50nm, 20%","x":0.25,"y":0.95},{"s":"50nm, 20%","x":0.3,"y":0.947},{"s":"50nm, 20%","x":0.35,"y":0.944},{"s":"50nm, 20%","x":0.4,"y":0.941},{"s":"50nm, 20%","x":0.45,"y":0.938},{"s":"50nm, 20%","x":0.5,"y":0.935},
{"s":"100nm, 20%","x":0.02,"y":0.955},{"s":"100nm, 20%","x":0.025,"y":0.962},{"s":"100nm, 20%","x":0.03,"y":0.958},{"s":"100nm, 20%","x":0.04,"y":0.96},{"s":"100nm, 20%","x":0.06,"y":0.958},{"s":"100nm, 20%","x":0.1,"y":0.957},{"s":"100nm, 20%","x":0.15,"y":0.955},{"s":"100nm, 20%","x":0.2,"y":0.952},{"s":"100nm, 20%","x":0.25,"y":0.949},{"s":"100nm, 20%","x":0.3,"y":0.946},{"s":"100nm, 20%","x":0.35,"y":0.944},{"s":"100nm, 20%","x":0.4,"y":0.941},{"s":"100nm, 20%","x":0.45,"y":0.939},{"s":"100nm, 20%","x":0.5,"y":0.937},
{"s":"50nm, 15%","x":0.015,"y":0.945},{"s":"50nm, 15%","x":0.02,"y":0.94},{"s":"50nm, 15%","x":0.025,"y":0.948},{"s":"50nm, 15%","x":0.03,"y":0.945},{"s":"50nm, 15%","x":0.04,"y":0.95},{"s":"50nm, 15%","x":0.05,"y":0.952},{"s":"50nm, 15%","x":0.06,"y":0.948},{"s":"50nm, 15%","x":0.08,"y":0.946},{"s":"50nm, 15%","x":0.1,"y":0.945},{"s":"50nm, 15%","x":0.15,"y":0.94},{"s":"50nm, 15%","x":0.2,"y":0.935},{"s":"50nm, 15%","x":0.25,"y":0.93},{"s":"50nm, 15%","x":0.3,"y":0.925},{"s":"50nm, 15%","x":0.35,"y":0.92},{"s":"50nm, 15%","x":0.4,"y":0.915},{"s":"50nm, 15%","x":0.45,"y":0.91},{"s":"50nm, 15%","x":0.5,"y":0.905},
{"s":"25nm, 15%","x":0.015,"y":0.93},{"s":"25nm, 15%","x":0.02,"y":0.945},{"s":"25nm, 15%","x":0.03,"y":0.94},{"s":"25nm, 15%","x":0.04,"y":0.947},{"s":"25nm, 15%","x":0.06,"y":0.944},{"s":"25nm, 15%","x":0.08,"y":0.942},{"s":"25nm, 15%","x":0.1,"y":0.943},{"s":"25nm, 15%","x":0.15,"y":0.94},{"s":"25nm, 15%","x":0.2,"y":0.936},{"s":"25nm, 15%","x":0.25,"y":0.932},{"s":"25nm, 15%","x":0.3,"y":0.928},{"s":"25nm, 15%","x":0.35,"y":0.924},{"s":"25nm, 15%","x":0.4,"y":0.92},{"s":"25nm, 15%","x":0.45,"y":0.916},{"s":"25nm, 15%","x":0.5,"y":0.912},
{"s":"75nm, 15%","x":0.02,"y":0.935},{"s":"75nm, 15%","x":0.03,"y":0.945},{"s":"75nm, 15%","x":0.04,"y":0.943},{"s":"75nm, 15%","x":0.05,"y":0.94},{"s":"75nm, 15%","x":0.06,"y":0.942},{"s":"75nm, 15%","x":0.08,"y":0.94},{"s":"75nm, 15%","x":0.1,"y":0.942},{"s":"75nm, 15%","x":0.15,"y":0.938},{"s":"75nm, 15%","x":0.2,"y":0.934},{"s":"75nm, 15%","x":0.25,"y":0.93},{"s":"75nm, 15%","x":0.3,"y":0.926},{"s":"75nm, 15%","x":0.35,"y":0.921},{"s":"75nm, 15%","x":0.4,"y":0.916},{"s":"75nm, 15%","x":0.45,"y":0.911},{"s":"75nm, 15%","x":0.5,"y":0.907},
{"s":"50nm, 10%","x":0.015,"y":0.885},{"s":"50nm, 10%","x":0.02,"y":0.89},{"s":"50nm, 10%","x":0.025,"y":0.88},{"s":"50nm, 10%","x":0.03,"y":0.895},{"s":"50nm, 10%","x":0.04,"y":0.9},{"s":"50nm, 10%","x":0.05,"y":0.903},{"s":"50nm, 10%","x":0.06,"y":0.898},{"s":"50nm, 10%","x":0.07,"y":0.905},{"s":"50nm, 10%","x":0.08,"y":0.903},{"s":"50nm, 10%","x":0.09,"y":0.905},{"s":"50nm, 10%","x":0.1,"y":0.898},{"s":"50nm, 10%","x":0.12,"y":0.89},{"s":"50nm, 10%","x":0.15,"y":0.888},{"s":"50nm, 10%","x":0.2,"y":0.885},{"s":"50nm, 10%","x":0.25,"y":0.88},{"s":"50nm, 10%","x":0.3,"y":0.875},{"s":"50nm, 10%","x":0.35,"y":0.868},{"s":"50nm, 10%","x":0.4,"y":0.86},{"s":"50nm, 10%","x":0.45,"y":0.85},{"s":"50nm, 10%","x":0.5,"y":0.842},
{"s":"25nm, 10%","x":0.015,"y":0.88},{"s":"25nm, 10%","x":0.02,"y":0.888},{"s":"25nm, 10%","x":0.03,"y":0.885},{"s":"25nm, 10%","x":0.04,"y":0.89},{"s":"25nm, 10%","x":0.05,"y":0.895},{"s":"25nm, 10%","x":0.06,"y":0.9},{"s":"25nm, 10%","x":0.08,"y":0.895},{"s":"25nm, 10%","x":0.1,"y":0.893},{"s":"25nm, 10%","x":0.12,"y":0.888},{"s":"25nm, 10%","x":0.15,"y":0.885},{"s":"25nm, 10%","x":0.2,"y":0.882},{"s":"25nm, 10%","x":0.25,"y":0.878},{"s":"25nm, 10%","x":0.3,"y":0.874},{"s":"25nm, 10%","x":0.35,"y":0.868},{"s":"25nm, 10%","x":0.4,"y":0.862},{"s":"25nm, 10%","x":0.45,"y":0.855},{"s":"25nm, 10%","x":0.5,"y":0.848},
{"s":"100nm, 10%","x":0.02,"y":0.885},{"s":"100nm, 10%","x":0.03,"y":0.9},{"s":"100nm, 10%","x":0.04,"y":0.893},{"s":"100nm, 10%","x":0.05,"y":0.91},{"s":"100nm, 10%","x":0.06,"y":0.905},{"s":"100nm, 10%","x":0.07,"y":0.9},{"s":"100nm, 10%","x":0.1,"y":0.895},{"s":"100nm, 10%","x":0.12,"y":0.892},{"s":"100nm, 10%","x":0.15,"y":0.887},{"s":"100nm, 10%","x":0.2,"y":0.883},{"s":"100nm, 10%","x":0.25,"y":0.878},{"s":"100nm, 10%","x":0.3,"y":0.873},{"s":"100nm, 10%","x":0.35,"y":0.866},{"s":"100nm, 10%","x":0.4,"y":0.859},{"s":"100nm, 10%","x":0.45,"y":0.851},{"s":"100nm, 10%","x":0.5,"y":0.844},
{"s":"50nm, 5%","x":0.02,"y":0.78},{"s":"50nm, 5%","x":0.025,"y":0.79},{"s":"50nm, 5%","x":0.03,"y":0.795},{"s":"50nm, 5%","x":0.035,"y":0.785},{"s":"50nm, 5%","x":0.04,"y":0.778},{"s":"50nm, 5%","x":0.05,"y":0.782},{"s":"50nm, 5%","x":0.06,"y":0.778},{"s":"50nm, 5%","x":0.07,"y":0.782},{"s":"50nm, 5%","x":0.08,"y":0.786},{"s":"50nm, 5%","x":0.1,"y":0.788},{"s":"50nm, 5%","x":0.12,"y":0.786},{"s":"50nm, 5%","x":0.14,"y":0.787},{"s":"50nm, 5%","x":0.16,"y":0.778},{"s":"50nm, 5%","x":0.18,"y":0.77},{"s":"50nm, 5%","x":0.2,"y":0.76},{"s":"50nm, 5%","x":0.25,"y":0.752},{"s":"50nm, 5%","x":0.3,"y":0.74},{"s":"50nm, 5%","x":0.33,"y":0.732},{"s":"50nm, 5%","x":0.36,"y":0.73},{"s":"50nm, 5%","x":0.4,"y":0.722},{"s":"50nm, 5%","x":0.45,"y":0.707},{"s":"50nm, 5%","x":0.5,"y":0.688},
{"s":"25nm, 5%","x":0.025,"y":0.75},{"s":"25nm, 5%","x":0.03,"y":0.765},{"s":"25nm, 5%","x":0.035,"y":0.78},{"s":"25nm, 5%","x":0.04,"y":0.77},{"s":"25nm, 5%","x":0.05,"y":0.775},{"s":"25nm, 5%","x":0.06,"y":0.778},{"s":"25nm, 5%","x":0.08,"y":0.77},{"s":"25nm, 5%","x":0.1,"y":0.77},{"s":"25nm, 5%","x":0.12,"y":0.772},{"s":"25nm, 5%","x":0.15,"y":0.775},{"s":"25nm, 5%","x":0.18,"y":0.768},{"s":"25nm, 5%","x":0.2,"y":0.762},{"s":"25nm, 5%","x":0.25,"y":0.75},{"s":"25nm, 5%","x":0.3,"y":0.738},{"s":"25nm, 5%","x":0.35,"y":0.728},{"s":"25nm, 5%","x":0.4,"y":0.717},{"s":"25nm, 5%","x":0.45,"y":0.705},{"s":"25nm, 5%","x":0.5,"y":0.693}
],
"bD":[{"x1":0.033,"x2":0.045,"xm":0.039,"y1":0.87,"y2":1.0,"ym":0.915},{"x1":0.195,"x2":0.245,"xm":0.221,"y1":0.825,"y2":0.885,"ym":0.853}],
"E":[
{"s":"50nm, 5%","x":0,"y":1},{"s":"50nm, 5%","x":0.005,"y":3},{"s":"50nm, 5%","x":0.01,"y":4.5},{"s":"50nm, 5%","x":0.02,"y":6.4},{"s":"50nm, 5%","x":0.04,"y":9},{"s":"50nm, 5%","x":0.06,"y":11},{"s":"50nm, 5%","x":0.08,"y":12.7},{"s":"50nm, 5%","x":0.1,"y":14.2},{"s":"50nm, 5%","x":0.15,"y":17.4},{"s":"50nm, 5%","x":0.2,"y":20.1},{"s":"50nm, 5%","x":0.25,"y":22.5},{"s":"50nm, 5%","x":0.3,"y":24.6},{"s":"50nm, 5%","x":0.35,"y":26.6},{"s":"50nm, 5%","x":0.4,"y":28.5},{"s":"50nm, 5%","x":0.45,"y":30.2},{"s":"50nm, 5%","x":0.5,"y":32},
{"s":"25nm, 5%","x":0,"y":0.8},{"s":"25nm, 5%","x":0.01,"y":4.3},{"s":"25nm, 5%","x":0.02,"y":6.3},{"s":"25nm, 5%","x":0.04,"y":8.9},{"s":"25nm, 5%","x":0.06,"y":10.9},{"s":"25nm, 5%","x":0.1,"y":14.1},{"s":"25nm, 5%","x":0.15,"y":17.3},{"s":"25nm, 5%","x":0.2,"y":20},{"s":"25nm, 5%","x":0.25,"y":22.4},{"s":"25nm, 5%","x":0.3,"y":24.5},{"s":"25nm, 5%","x":0.35,"y":26.5},{"s":"25nm, 5%","x":0.4,"y":28.4},{"s":"25nm, 5%","x":0.45,"y":30.1},{"s":"25nm, 5%","x":0.5,"y":31.8},
{"s":"50nm, 10%","x":0,"y":0.5},{"s":"50nm, 10%","x":0.005,"y":1.95},{"s":"50nm, 10%","x":0.01,"y":2.85},{"s":"50nm, 10%","x":0.02,"y":4.2},{"s":"50nm, 10%","x":0.04,"y":6.1},{"s":"50nm, 10%","x":0.06,"y":7.6},{"s":"50nm, 10%","x":0.08,"y":8.9},{"s":"50nm, 10%","x":0.1,"y":10.1},{"s":"50nm, 10%","x":0.15,"y":12.6},{"s":"50nm, 10%","x":0.2,"y":14.8},{"s":"50nm, 10%","x":0.25,"y":16.7},{"s":"50nm, 10%","x":0.3,"y":18.5},{"s":"50nm, 10%","x":0.35,"y":20.1},{"s":"50nm, 10%","x":0.4,"y":21.7},{"s":"50nm, 10%","x":0.45,"y":23.1},{"s":"50nm, 10%","x":0.5,"y":24.5},
{"s":"25nm, 10%","x":0,"y":0.4},{"s":"25nm, 10%","x":0.01,"y":2.7},{"s":"25nm, 10%","x":0.02,"y":4},{"s":"25nm, 10%","x":0.04,"y":5.9},{"s":"25nm, 10%","x":0.06,"y":7.4},{"s":"25nm, 10%","x":0.1,"y":9.9},{"s":"25nm, 10%","x":0.15,"y":12.4},{"s":"25nm, 10%","x":0.2,"y":14.6},{"s":"25nm, 10%","x":0.25,"y":16.5},{"s":"25nm, 10%","x":0.3,"y":18.2},{"s":"25nm, 10%","x":0.35,"y":19.8},{"s":"25nm, 10%","x":0.4,"y":21.3},{"s":"25nm, 10%","x":0.45,"y":22.7},{"s":"25nm, 10%","x":0.5,"y":24},
{"s":"100nm, 10%","x":0,"y":0.5},{"s":"100nm, 10%","x":0.01,"y":2.8},{"s":"100nm, 10%","x":0.02,"y":4.1},{"s":"100nm, 10%","x":0.04,"y":6},{"s":"100nm, 10%","x":0.06,"y":7.5},{"s":"100nm, 10%","x":0.1,"y":10},{"s":"100nm, 10%","x":0.15,"y":12.5},{"s":"100nm, 10%","x":0.2,"y":14.7},{"s":"100nm, 10%","x":0.25,"y":16.6},{"s":"100nm, 10%","x":0.3,"y":18.4},{"s":"100nm, 10%","x":0.35,"y":20},{"s":"100nm, 10%","x":0.4,"y":21.5},{"s":"100nm, 10%","x":0.45,"y":22.9},{"s":"100nm, 10%","x":0.5,"y":24.3},
{"s":"50nm, 15%","x":0,"y":0.3},{"s":"50nm, 15%","x":0.005,"y":1.23},{"s":"50nm, 15%","x":0.01,"y":1.86},{"s":"50nm, 15%","x":0.02,"y":2.83},{"s":"50nm, 15%","x":0.04,"y":4.3},{"s":"50nm, 15%","x":0.06,"y":5.46},{"s":"50nm, 15%","x":0.08,"y":6.5},{"s":"50nm, 15%","x":0.1,"y":7.4},{"s":"50nm, 15%","x":0.15,"y":9.5},{"s":"50nm, 15%","x":0.2,"y":11.25},{"s":"50nm, 15%","x":0.25,"y":12.9},{"s":"50nm, 15%","x":0.3,"y":14.4},{"s":"50nm, 15%","x":0.35,"y":15.7},{"s":"50nm, 15%","x":0.4,"y":17.1},{"s":"50nm, 15%","x":0.45,"y":18.3},{"s":"50nm, 15%","x":0.5,"y":19.5},
{"s":"25nm, 15%","x":0,"y":0.2},{"s":"25nm, 15%","x":0.01,"y":1.7},{"s":"25nm, 15%","x":0.02,"y":2.7},{"s":"25nm, 15%","x":0.04,"y":4.1},{"s":"25nm, 15%","x":0.06,"y":5.2},{"s":"25nm, 15%","x":0.1,"y":7.1},{"s":"25nm, 15%","x":0.15,"y":9.1},{"s":"25nm, 15%","x":0.2,"y":10.8},{"s":"25nm, 15%","x":0.25,"y":12.4},{"s":"25nm, 15%","x":0.3,"y":13.8},{"s":"25nm, 15%","x":0.35,"y":15.1},{"s":"25nm, 15%","x":0.4,"y":16.4},{"s":"25nm, 15%","x":0.45,"y":17.6},{"s":"25nm, 15%","x":0.5,"y":18.7},
{"s":"75nm, 15%","x":0,"y":0.3},{"s":"75nm, 15%","x":0.01,"y":1.9},{"s":"75nm, 15%","x":0.02,"y":2.9},{"s":"75nm, 15%","x":0.04,"y":4.4},{"s":"75nm, 15%","x":0.06,"y":5.5},{"s":"75nm, 15%","x":0.1,"y":7.4},{"s":"75nm, 15%","x":0.15,"y":9.4},{"s":"75nm, 15%","x":0.2,"y":11.1},{"s":"75nm, 15%","x":0.25,"y":12.7},{"s":"75nm, 15%","x":0.3,"y":14.2},{"s":"75nm, 15%","x":0.35,"y":15.5},{"s":"75nm, 15%","x":0.4,"y":16.8},{"s":"75nm, 15%","x":0.45,"y":18},{"s":"75nm, 15%","x":0.5,"y":19.2},
{"s":"50nm, 20%","x":0,"y":0.2},{"s":"50nm, 20%","x":0.005,"y":1.04},{"s":"50nm, 20%","x":0.01,"y":1.58},{"s":"50nm, 20%","x":0.02,"y":2.4},{"s":"50nm, 20%","x":0.04,"y":3.63},{"s":"50nm, 20%","x":0.06,"y":4.62},{"s":"50nm, 20%","x":0.08,"y":5.5},{"s":"50nm, 20%","x":0.1,"y":6.3},{"s":"50nm, 20%","x":0.15,"y":8},{"s":"50nm, 20%","x":0.2,"y":9.5},{"s":"50nm, 20%","x":0.25,"y":10.9},{"s":"50nm, 20%","x":0.3,"y":12.1},{"s":"50nm, 20%","x":0.35,"y":13.3},{"s":"50nm, 20%","x":0.4,"y":14.4},{"s":"50nm, 20%","x":0.45,"y":15.5},{"s":"50nm, 20%","x":0.5,"y":16.5},
{"s":"25nm, 20%","x":0,"y":0.1},{"s":"25nm, 20%","x":0.01,"y":1.4},{"s":"25nm, 20%","x":0.02,"y":2.2},{"s":"25nm, 20%","x":0.04,"y":3.4},{"s":"25nm, 20%","x":0.06,"y":4.4},{"s":"25nm, 20%","x":0.1,"y":6},{"s":"25nm, 20%","x":0.15,"y":7.7},{"s":"25nm, 20%","x":0.2,"y":9.2},{"s":"25nm, 20%","x":0.25,"y":10.5},{"s":"25nm, 20%","x":0.3,"y":11.7},{"s":"25nm, 20%","x":0.35,"y":12.9},{"s":"25nm, 20%","x":0.4,"y":14},{"s":"25nm, 20%","x":0.45,"y":15},{"s":"25nm, 20%","x":0.5,"y":16},
{"s":"100nm, 20%","x":0,"y":0.2},{"s":"100nm, 20%","x":0.01,"y":1.5},{"s":"100nm, 20%","x":0.02,"y":2.3},{"s":"100nm, 20%","x":0.04,"y":3.5},{"s":"100nm, 20%","x":0.06,"y":4.5},{"s":"100nm, 20%","x":0.1,"y":6.2},{"s":"100nm, 20%","x":0.15,"y":7.9},{"s":"100nm, 20%","x":0.2,"y":9.4},{"s":"100nm, 20%","x":0.25,"y":10.7},{"s":"100nm, 20%","x":0.3,"y":11.9},{"s":"100nm, 20%","x":0.35,"y":13.1},{"s":"100nm, 20%","x":0.4,"y":14.2},{"s":"100nm, 20%","x":0.45,"y":15.2},{"s":"100nm, 20%","x":0.5,"y":16.2}
],
"bE":[{"x1":0.033,"x2":0.046,"xm":0.04,"y1":5.7,"y2":14.3,"ym":8.6},{"x1":0.195,"x2":0.244,"xm":0.223,"y1":16.1,"y2":24.1,"ym":19.3}],
"F":[
{"s":"50nm, 20%","x":0,"y":0},{"s":"50nm, 20%","x":0.05,"y":18},{"s":"50nm, 20%","x":0.1,"y":35},{"s":"50nm, 20%","x":0.15,"y":51},{"s":"50nm, 20%","x":0.2,"y":66},{"s":"50nm, 20%","x":0.25,"y":81},{"s":"50nm, 20%","x":0.3,"y":95},{"s":"50nm, 20%","x":0.35,"y":109},{"s":"50nm, 20%","x":0.4,"y":123},{"s":"50nm, 20%","x":0.45,"y":137},{"s":"50nm, 20%","x":0.5,"y":150},
{"s":"25nm, 20%","x":0,"y":0},{"s":"25nm, 20%","x":0.1,"y":35},{"s":"25nm, 20%","x":0.2,"y":67},{"s":"25nm, 20%","x":0.3,"y":96.5},{"s":"25nm, 20%","x":0.4,"y":125},{"s":"25nm, 20%","x":0.45,"y":139},{"s":"25nm, 20%","x":0.5,"y":152},
{"s":"100nm, 20%","x":0,"y":0},{"s":"100nm, 20%","x":0.1,"y":35},{"s":"100nm, 20%","x":0.2,"y":66},{"s":"100nm, 20%","x":0.3,"y":95.5},{"s":"100nm, 20%","x":0.4,"y":124},{"s":"100nm, 20%","x":0.5,"y":151},
{"s":"50nm, 15%","x":0,"y":0},{"s":"50nm, 15%","x":0.05,"y":17.5},{"s":"50nm, 15%","x":0.1,"y":33.5},{"s":"50nm, 15%","x":0.15,"y":48.5},{"s":"50nm, 15%","x":0.2,"y":63},{"s":"50nm, 15%","x":0.25,"y":77},{"s":"50nm, 15%","x":0.3,"y":90},{"s":"50nm, 15%","x":0.35,"y":103},{"s":"50nm, 15%","x":0.4,"y":116},{"s":"50nm, 15%","x":0.45,"y":128},{"s":"50nm, 15%","x":0.5,"y":140},
{"s":"25nm, 15%","x":0,"y":0},{"s":"25nm, 15%","x":0.1,"y":33.5},{"s":"25nm, 15%","x":0.2,"y":63.5},{"s":"25nm, 15%","x":0.3,"y":91},{"s":"25nm, 15%","x":0.4,"y":117.5},{"s":"25nm, 15%","x":0.45,"y":130},{"s":"25nm, 15%","x":0.5,"y":142.5},
{"s":"75nm, 15%","x":0,"y":0},{"s":"75nm, 15%","x":0.1,"y":33},{"s":"75nm, 15%","x":0.2,"y":62.5},{"s":"75nm, 15%","x":0.3,"y":89.5},{"s":"75nm, 15%","x":0.4,"y":115},{"s":"75nm, 15%","x":0.5,"y":139},
{"s":"50nm, 10%","x":0,"y":0},{"s":"50nm, 10%","x":0.05,"y":15},{"s":"50nm, 10%","x":0.1,"y":29},{"s":"50nm, 10%","x":0.15,"y":42},{"s":"50nm, 10%","x":0.2,"y":54},{"s":"50nm, 10%","x":0.25,"y":66},{"s":"50nm, 10%","x":0.3,"y":77},{"s":"50nm, 10%","x":0.35,"y":88},{"s":"50nm, 10%","x":0.4,"y":99},{"s":"50nm, 10%","x":0.45,"y":109},{"s":"50nm, 10%","x":0.5,"y":119},
{"s":"25nm, 10%","x":0,"y":0},{"s":"25nm, 10%","x":0.1,"y":29},{"s":"25nm, 10%","x":0.2,"y":54.5},{"s":"25nm, 10%","x":0.3,"y":78},{"s":"25nm, 10%","x":0.4,"y":100.5},{"s":"25nm, 10%","x":0.45,"y":111},{"s":"25nm, 10%","x":0.5,"y":121},
{"s":"100nm, 10%","x":0,"y":0},{"s":"100nm, 10%","x":0.1,"y":29},{"s":"100nm, 10%","x":0.2,"y":54},{"s":"100nm, 10%","x":0.3,"y":77.5},{"s":"100nm, 10%","x":0.4,"y":100},{"s":"100nm, 10%","x":0.5,"y":120},
{"s":"50nm, 5%","x":0,"y":0},{"s":"50nm, 5%","x":0.05,"y":13},{"s":"50nm, 5%","x":0.1,"y":24},{"s":"50nm, 5%","x":0.15,"y":32.5},{"s":"50nm, 5%","x":0.2,"y":40},{"s":"50nm, 5%","x":0.25,"y":47.5},{"s":"50nm, 5%","x":0.3,"y":55},{"s":"50nm, 5%","x":0.35,"y":61.5},{"s":"50nm, 5%","x":0.4,"y":67.5},{"s":"50nm, 5%","x":0.45,"y":73.5},{"s":"50nm, 5%","x":0.5,"y":79},
{"s":"25nm, 5%","x":0,"y":0},{"s":"25nm, 5%","x":0.1,"y":24},{"s":"25nm, 5%","x":0.2,"y":40},{"s":"25nm, 5%","x":0.3,"y":55.5},{"s":"25nm, 5%","x":0.4,"y":68.5},{"s":"25nm, 5%","x":0.45,"y":75},{"s":"25nm, 5%","x":0.5,"y":80}
],
"bF":[{"x1":0.196,"x2":0.243,"xm":0.22,"y1":24,"y2":33.7,"ym":28.9},{"x1":0.034,"x2":0.045,"xm":0.04,"y1":4.5,"y2":8.5,"ym":6.5}],
"G":[
{"s":"50nm, 5%","x":0.002,"y":0},{"s":"50nm, 5%","x":0.004,"y":0.1},{"s":"50nm, 5%","x":0.006,"y":0.22},{"s":"50nm, 5%","x":0.008,"y":0.29},{"s":"50nm, 5%","x":0.01,"y":0.315},{"s":"50nm, 5%","x":0.012,"y":0.3},{"s":"50nm, 5%","x":0.014,"y":0.27},{"s":"50nm, 5%","x":0.017,"y":0.23},{"s":"50nm, 5%","x":0.02,"y":0.2},{"s":"50nm, 5%","x":0.025,"y":0.16},{"s":"50nm, 5%","x":0.03,"y":0.14},{"s":"50nm, 5%","x":0.035,"y":0.13},{"s":"50nm, 5%","x":0.04,"y":0.125},{"s":"50nm, 5%","x":0.05,"y":0.12},{"s":"50nm, 5%","x":0.06,"y":0.112},{"s":"50nm, 5%","x":0.07,"y":0.105},{"s":"50nm, 5%","x":0.08,"y":0.1},{"s":"50nm, 5%","x":0.1,"y":0.09},{"s":"50nm, 5%","x":0.12,"y":0.083},{"s":"50nm, 5%","x":0.14,"y":0.077},{"s":"50nm, 5%","x":0.16,"y":0.071},{"s":"50nm, 5%","x":0.18,"y":0.07},{"s":"50nm, 5%","x":0.2,"y":0.071},{"s":"50nm, 5%","x":0.22,"y":0.069},{"s":"50nm, 5%","x":0.25,"y":0.065},{"s":"50nm, 5%","x":0.28,"y":0.062},{"s":"50nm, 5%","x":0.3,"y":0.057},{"s":"50nm, 5%","x":0.33,"y":0.054},{"s":"50nm, 5%","x":0.36,"y":0.05},{"s":"50nm, 5%","x":0.4,"y":0.048},{"s":"50nm, 5%","x":0.45,"y":0.046},{"s":"50nm, 5%","x":0.5,"y":0.045},
{"s":"25nm, 5%","x":0.002,"y":0},{"s":"25nm, 5%","x":0.004,"y":0.09},{"s":"25nm, 5%","x":0.006,"y":0.2},{"s":"25nm, 5%","x":0.008,"y":0.27},{"s":"25nm, 5%","x":0.01,"y":0.3},{"s":"25nm, 5%","x":0.012,"y":0.29},{"s":"25nm, 5%","x":0.015,"y":0.25},{"s":"25nm, 5%","x":0.02,"y":0.19},{"s":"25nm, 5%","x":0.025,"y":0.155},{"s":"25nm, 5%","x":0.03,"y":0.14},{"s":"25nm, 5%","x":0.04,"y":0.12},{"s":"25nm, 5%","x":0.05,"y":0.115},{"s":"25nm, 5%","x":0.06,"y":0.108},{"s":"25nm, 5%","x":0.08,"y":0.098},{"s":"25nm, 5%","x":0.1,"y":0.088},{"s":"25nm, 5%","x":0.12,"y":0.078},{"s":"25nm, 5%","x":0.14,"y":0.068},{"s":"25nm, 5%","x":0.16,"y":0.062},{"s":"25nm, 5%","x":0.18,"y":0.058},{"s":"25nm, 5%","x":0.2,"y":0.057},{"s":"25nm, 5%","x":0.25,"y":0.056},{"s":"25nm, 5%","x":0.3,"y":0.054},{"s":"25nm, 5%","x":0.35,"y":0.052},{"s":"25nm, 5%","x":0.4,"y":0.05},{"s":"25nm, 5%","x":0.45,"y":0.048},{"s":"25nm, 5%","x":0.5,"y":0.047},
{"s":"50nm, 10%","x":0.001,"y":0},{"s":"50nm, 10%","x":0.003,"y":0.12},{"s":"50nm, 10%","x":0.005,"y":0.22},{"s":"50nm, 10%","x":0.007,"y":0.26},{"s":"50nm, 10%","x":0.009,"y":0.27},{"s":"50nm, 10%","x":0.011,"y":0.25},{"s":"50nm, 10%","x":0.014,"y":0.2},{"s":"50nm, 10%","x":0.017,"y":0.16},{"s":"50nm, 10%","x":0.02,"y":0.14},{"s":"50nm, 10%","x":0.025,"y":0.12},{"s":"50nm, 10%","x":0.03,"y":0.1},{"s":"50nm, 10%","x":0.04,"y":0.085},{"s":"50nm, 10%","x":0.05,"y":0.075},{"s":"50nm, 10%","x":0.07,"y":0.065},{"s":"50nm, 10%","x":0.1,"y":0.055},{"s":"50nm, 10%","x":0.15,"y":0.048},{"s":"50nm, 10%","x":0.2,"y":0.043},{"s":"50nm, 10%","x":0.25,"y":0.04},{"s":"50nm, 10%","x":0.3,"y":0.038},{"s":"50nm, 10%","x":0.35,"y":0.036},{"s":"50nm, 10%","x":0.4,"y":0.035},{"s":"50nm, 10%","x":0.45,"y":0.034},{"s":"50nm, 10%","x":0.5,"y":0.033},
{"s":"25nm, 10%","x":0.001,"y":0},{"s":"25nm, 10%","x":0.003,"y":0.11},{"s":"25nm, 10%","x":0.005,"y":0.2},{"s":"25nm, 10%","x":0.007,"y":0.245},{"s":"25nm, 10%","x":0.009,"y":0.25},{"s":"25nm, 10%","x":0.012,"y":0.22},{"s":"25nm, 10%","x":0.015,"y":0.18},{"s":"25nm, 10%","x":0.02,"y":0.13},{"s":"25nm, 10%","x":0.025,"y":0.11},{"s":"25nm, 10%","x":0.03,"y":0.095},{"s":"25nm, 10%","x":0.04,"y":0.085},{"s":"25nm, 10%","x":0.045,"y":0.11},{"s":"25nm, 10%","x":0.05,"y":0.08},{"s":"25nm, 10%","x":0.07,"y":0.065},{"s":"25nm, 10%","x":0.1,"y":0.053},{"s":"25nm, 10%","x":0.15,"y":0.046},{"s":"25nm, 10%","x":0.2,"y":0.041},{"s":"25nm, 10%","x":0.25,"y":0.038},{"s":"25nm, 10%","x":0.3,"y":0.036},{"s":"25nm, 10%","x":0.35,"y":0.034},{"s":"25nm, 10%","x":0.4,"y":0.033},{"s":"25nm, 10%","x":0.45,"y":0.031},{"s":"25nm, 10%","x":0.5,"y":0.03},
{"s":"100nm, 10%","x":0.001,"y":0},{"s":"100nm, 10%","x":0.003,"y":0.1},{"s":"100nm, 10%","x":0.005,"y":0.18},{"s":"100nm, 10%","x":0.007,"y":0.215},{"s":"100nm, 10%","x":0.009,"y":0.22},{"s":"100nm, 10%","x":0.012,"y":0.19},{"s":"100nm, 10%","x":0.015,"y":0.16},{"s":"100nm, 10%","x":0.02,"y":0.125},{"s":"100nm, 10%","x":0.03,"y":0.095},{"s":"100nm, 10%","x":0.04,"y":0.08},{"s":"100nm, 10%","x":0.05,"y":0.072},{"s":"100nm, 10%","x":0.07,"y":0.062},{"s":"100nm, 10%","x":0.1,"y":0.054},{"s":"100nm, 10%","x":0.15,"y":0.047},{"s":"100nm, 10%","x":0.2,"y":0.042},{"s":"100nm, 10%","x":0.3,"y":0.037},{"s":"100nm, 10%","x":0.4,"y":0.034},{"s":"100nm, 10%","x":0.5,"y":0.031},
{"s":"50nm, 15%","x":0.002,"y":0},{"s":"50nm, 15%","x":0.004,"y":0.08},{"s":"50nm, 15%","x":0.006,"y":0.14},{"s":"50nm, 15%","x":0.008,"y":0.165},{"s":"50nm, 15%","x":0.01,"y":0.17},{"s":"50nm, 15%","x":0.012,"y":0.16},{"s":"50nm, 15%","x":0.015,"y":0.13},{"s":"50nm, 15%","x":0.02,"y":0.11},{"s":"50nm, 15%","x":0.025,"y":0.095},{"s":"50nm, 15%","x":0.03,"y":0.08},{"s":"50nm, 15%","x":0.04,"y":0.068},{"s":"50nm, 15%","x":0.05,"y":0.06},{"s":"50nm, 15%","x":0.07,"y":0.052},{"s":"50nm, 15%","x":0.1,"y":0.045},{"s":"50nm, 15%","x":0.15,"y":0.038},{"s":"50nm, 15%","x":0.2,"y":0.033},{"s":"50nm, 15%","x":0.25,"y":0.03},{"s":"50nm, 15%","x":0.3,"y":0.028},{"s":"50nm, 15%","x":0.35,"y":0.027},{"s":"50nm, 15%","x":0.4,"y":0.026},{"s":"50nm, 15%","x":0.45,"y":0.025},{"s":"50nm, 15%","x":0.5,"y":0.025},
{"s":"25nm, 15%","x":0.002,"y":0},{"s":"25nm, 15%","x":0.004,"y":0.07},{"s":"25nm, 15%","x":0.006,"y":0.12},{"s":"25nm, 15%","x":0.008,"y":0.15},{"s":"25nm, 15%","x":0.01,"y":0.155},{"s":"25nm, 15%","x":0.013,"y":0.14},{"s":"25nm, 15%","x":0.016,"y":0.12},{"s":"25nm, 15%","x":0.02,"y":0.1},{"s":"25nm, 15%","x":0.03,"y":0.075},{"s":"25nm, 15%","x":0.04,"y":0.063},{"s":"25nm, 15%","x":0.05,"y":0.056},{"s":"25nm, 15%","x":0.07,"y":0.049},{"s":"25nm, 15%","x":0.1,"y":0.042},{"s":"25nm, 15%","x":0.15,"y":0.036},{"s":"25nm, 15%","x":0.2,"y":0.031},{"s":"25nm, 15%","x":0.3,"y":0.027},{"s":"25nm, 15%","x":0.4,"y":0.025},{"s":"25nm, 15%","x":0.5,"y":0.024},
{"s":"75nm, 15%","x":0.002,"y":0},{"s":"75nm, 15%","x":0.004,"y":0.07},{"s":"75nm, 15%","x":0.006,"y":0.13},{"s":"75nm, 15%","x":0.008,"y":0.155},{"s":"75nm, 15%","x":0.01,"y":0.16},{"s":"75nm, 15%","x":0.013,"y":0.145},{"s":"75nm, 15%","x":0.016,"y":0.125},{"s":"75nm, 15%","x":0.02,"y":0.105},{"s":"75nm, 15%","x":0.03,"y":0.078},{"s":"75nm, 15%","x":0.04,"y":0.066},{"s":"75nm, 15%","x":0.05,"y":0.058},{"s":"75nm, 15%","x":0.07,"y":0.05},{"s":"75nm, 15%","x":0.1,"y":0.044},{"s":"75nm, 15%","x":0.15,"y":0.037},{"s":"75nm, 15%","x":0.2,"y":0.032},{"s":"75nm, 15%","x":0.3,"y":0.028},{"s":"75nm, 15%","x":0.4,"y":0.026},{"s":"75nm, 15%","x":0.5,"y":0.025},
{"s":"50nm, 20%","x":0.003,"y":0},{"s":"50nm, 20%","x":0.005,"y":0.06},{"s":"50nm, 20%","x":0.008,"y":0.12},{"s":"50nm, 20%","x":0.011,"y":0.15},{"s":"50nm, 20%","x":0.013,"y":0.14},{"s":"50nm, 20%","x":0.016,"y":0.11},{"s":"50nm, 20%","x":0.02,"y":0.09},{"s":"50nm, 20%","x":0.025,"y":0.075},{"s":"50nm, 20%","x":0.03,"y":0.065},{"s":"50nm, 20%","x":0.04,"y":0.055},{"s":"50nm, 20%","x":0.05,"y":0.048},{"s":"50nm, 20%","x":0.07,"y":0.042},{"s":"50nm, 20%","x":0.1,"y":0.036},{"s":"50nm, 20%","x":0.15,"y":0.031},{"s":"50nm, 20%","x":0.2,"y":0.028},{"s":"50nm, 20%","x":0.25,"y":0.026},{"s":"50nm, 20%","x":0.3,"y":0.024},{"s":"50nm, 20%","x":0.35,"y":0.023},{"s":"50nm, 20%","x":0.4,"y":0.022},{"s":"50nm, 20%","x":0.45,"y":0.021},{"s":"50nm, 20%","x":0.5,"y":0.02},
{"s":"25nm, 20%","x":0.003,"y":0},{"s":"25nm, 20%","x":0.005,"y":0.05},{"s":"25nm, 20%","x":0.008,"y":0.1},{"s":"25nm, 20%","x":0.011,"y":0.125},{"s":"25nm, 20%","x":0.013,"y":0.12},{"s":"25nm, 20%","x":0.016,"y":0.095},{"s":"25nm, 20%","x":0.02,"y":0.075},{"s":"25nm, 20%","x":0.03,"y":0.055},{"s":"25nm, 20%","x":0.04,"y":0.046},{"s":"25nm, 20%","x":0.05,"y":0.04},{"s":"25nm, 20%","x":0.07,"y":0.035},{"s":"25nm, 20%","x":0.1,"y":0.03},{"s":"25nm, 20%","x":0.15,"y":0.027},{"s":"25nm, 20%","x":0.2,"y":0.025},{"s":"25nm, 20%","x":0.3,"y":0.022},{"s":"25nm, 20%","x":0.4,"y":0.02},{"s":"25nm, 20%","x":0.5,"y":0.018},
{"s":"100nm, 20%","x":0.003,"y":0},{"s":"100nm, 20%","x":0.005,"y":0.055},{"s":"100nm, 20%","x":0.008,"y":0.11},{"s":"100nm, 20%","x":0.011,"y":0.14},{"s":"100nm, 20%","x":0.013,"y":0.135},{"s":"100nm, 20%","x":0.016,"y":0.105},{"s":"100nm, 20%","x":0.02,"y":0.085},{"s":"100nm, 20%","x":0.03,"y":0.062},{"s":"100nm, 20%","x":0.04,"y":0.052},{"s":"100nm, 20%","x":0.05,"y":0.046},{"s":"100nm, 20%","x":0.07,"y":0.04},{"s":"100nm, 20%","x":0.1,"y":0.034},{"s":"100nm, 20%","x":0.15,"y":0.03},{"s":"100nm, 20%","x":0.2,"y":0.027},{"s":"100nm, 20%","x":0.3,"y":0.023},{"s":"100nm, 20%","x":0.4,"y":0.021},{"s":"100nm, 20%","x":0.5,"y":0.019}
],
"H":[
{"s":"50nm, 5%","x":0.002,"y":0},{"s":"50nm, 5%","x":0.005,"y":1.5},{"s":"50nm, 5%","x":0.008,"y":2.6},{"s":"50nm, 5%","x":0.011,"y":3.1},{"s":"50nm, 5%","x":0.015,"y":3.2},{"s":"50nm, 5%","x":0.018,"y":3.15},{"s":"50nm, 5%","x":0.022,"y":3.1},{"s":"50nm, 5%","x":0.026,"y":3.05},{"s":"50nm, 5%","x":0.03,"y":2.6},{"s":"50nm, 5%","x":0.035,"y":2.75},{"s":"50nm, 5%","x":0.04,"y":2.7},{"s":"50nm, 5%","x":0.043,"y":2.2},{"s":"50nm, 5%","x":0.046,"y":1.95},{"s":"50nm, 5%","x":0.05,"y":1.9},{"s":"50nm, 5%","x":0.06,"y":1.95},{"s":"50nm, 5%","x":0.07,"y":1.92},{"s":"50nm, 5%","x":0.08,"y":1.98},{"s":"50nm, 5%","x":0.09,"y":2},{"s":"50nm, 5%","x":0.1,"y":2.05},{"s":"50nm, 5%","x":0.11,"y":1.95},{"s":"50nm, 5%","x":0.13,"y":2.05},{"s":"50nm, 5%","x":0.15,"y":2.1},{"s":"50nm, 5%","x":0.17,"y":2.12},{"s":"50nm, 5%","x":0.2,"y":2.2},{"s":"50nm, 5%","x":0.22,"y":2.1},{"s":"50nm, 5%","x":0.25,"y":2},{"s":"50nm, 5%","x":0.28,"y":1.95},{"s":"50nm, 5%","x":0.3,"y":1.85},{"s":"50nm, 5%","x":0.33,"y":1.8},{"s":"50nm, 5%","x":0.35,"y":1.72},{"s":"50nm, 5%","x":0.38,"y":1.78},{"s":"50nm, 5%","x":0.4,"y":1.8},{"s":"50nm, 5%","x":0.43,"y":1.75},{"s":"50nm, 5%","x":0.46,"y":1.75},{"s":"50nm, 5%","x":0.48,"y":1.7},{"s":"50nm, 5%","x":0.5,"y":1.65},
{"s":"25nm, 5%","x":0.002,"y":0},{"s":"25nm, 5%","x":0.005,"y":1.4},{"s":"25nm, 5%","x":0.008,"y":2.5},{"s":"25nm, 5%","x":0.012,"y":2.9},{"s":"25nm, 5%","x":0.016,"y":3},{"s":"25nm, 5%","x":0.02,"y":2.95},{"s":"25nm, 5%","x":0.025,"y":2.85},{"s":"25nm, 5%","x":0.03,"y":2.8},{"s":"25nm, 5%","x":0.035,"y":2.5},{"s":"25nm, 5%","x":0.04,"y":2.3},{"s":"25nm, 5%","x":0.05,"y":2.2},{"s":"25nm, 5%","x":0.06,"y":2.15},{"s":"25nm, 5%","x":0.08,"y":2.1},{"s":"25nm, 5%","x":0.1,"y":1.95},{"s":"25nm, 5%","x":0.12,"y":1.85},{"s":"25nm, 5%","x":0.14,"y":1.7},{"s":"25nm, 5%","x":0.16,"y":1.58},{"s":"25nm, 5%","x":0.18,"y":1.7},{"s":"25nm, 5%","x":0.2,"y":1.75},{"s":"25nm, 5%","x":0.22,"y":1.78},{"s":"25nm, 5%","x":0.25,"y":1.85},{"s":"25nm, 5%","x":0.28,"y":1.9},{"s":"25nm, 5%","x":0.3,"y":1.95},{"s":"25nm, 5%","x":0.33,"y":2},{"s":"25nm, 5%","x":0.36,"y":2},{"s":"25nm, 5%","x":0.4,"y":2.05},{"s":"25nm, 5%","x":0.43,"y":2},{"s":"25nm, 5%","x":0.46,"y":2.08},{"s":"25nm, 5%","x":0.5,"y":2.1},
{"s":"50nm, 10%","x":0.001,"y":0},{"s":"50nm, 10%","x":0.005,"y":1.5},{"s":"50nm, 10%","x":0.01,"y":2.2},{"s":"50nm, 10%","x":0.02,"y":2.8},{"s":"50nm, 10%","x":0.03,"y":3.1},{"s":"50nm, 10%","x":0.035,"y":3.05},{"s":"50nm, 10%","x":0.04,"y":2.95},{"s":"50nm, 10%","x":0.05,"y":2.9},{"s":"50nm, 10%","x":0.06,"y":2.7},{"s":"50nm, 10%","x":0.07,"y":2.55},{"s":"50nm, 10%","x":0.08,"y":2.45},{"s":"50nm, 10%","x":0.1,"y":2.3},{"s":"50nm, 10%","x":0.11,"y":2.15},{"s":"50nm, 10%","x":0.12,"y":2.05},{"s":"50nm, 10%","x":0.14,"y":2.05},{"s":"50nm, 10%","x":0.16,"y":2},{"s":"50nm, 10%","x":0.18,"y":1.95},{"s":"50nm, 10%","x":0.2,"y":1.92},{"s":"50nm, 10%","x":0.22,"y":1.95},{"s":"50nm, 10%","x":0.25,"y":2},{"s":"50nm, 10%","x":0.28,"y":2.1},{"s":"50nm, 10%","x":0.3,"y":2.15},{"s":"50nm, 10%","x":0.33,"y":2.2},{"s":"50nm, 10%","x":0.36,"y":2.3},{"s":"50nm, 10%","x":0.4,"y":2.35},{"s":"50nm, 10%","x":0.43,"y":2.32},{"s":"50nm, 10%","x":0.46,"y":2.28},{"s":"50nm, 10%","x":0.5,"y":2.3},
{"s":"25nm, 10%","x":0.001,"y":0},{"s":"25nm, 10%","x":0.005,"y":1.4},{"s":"25nm, 10%","x":0.01,"y":2.1},{"s":"25nm, 10%","x":0.02,"y":2.7},{"s":"25nm, 10%","x":0.03,"y":2.9},{"s":"25nm, 10%","x":0.04,"y":3},{"s":"25nm, 10%","x":0.05,"y":3.05},{"s":"25nm, 10%","x":0.06,"y":2.9},{"s":"25nm, 10%","x":0.07,"y":2.75},{"s":"25nm, 10%","x":0.08,"y":2.7},{"s":"25nm, 10%","x":0.1,"y":2.5},{"s":"25nm, 10%","x":0.12,"y":2.45},{"s":"25nm, 10%","x":0.15,"y":2.4},{"s":"25nm, 10%","x":0.18,"y":2.35},{"s":"25nm, 10%","x":0.2,"y":2.3},{"s":"25nm, 10%","x":0.23,"y":2.25},{"s":"25nm, 10%","x":0.26,"y":2.3},{"s":"25nm, 10%","x":0.3,"y":2.35},{"s":"25nm, 10%","x":0.34,"y":2.4},{"s":"25nm, 10%","x":0.38,"y":2.45},{"s":"25nm, 10%","x":0.42,"y":2.4},{"s":"25nm, 10%","x":0.46,"y":2.35},{"s":"25nm, 10%","x":0.5,"y":2.25},
{"s":"100nm, 10%","x":0.001,"y":0},{"s":"100nm, 10%","x":0.005,"y":1.5},{"s":"100nm, 10%","x":0.01,"y":2.3},{"s":"100nm, 10%","x":0.02,"y":2.9},{"s":"100nm, 10%","x":0.03,"y":3},{"s":"100nm, 10%","x":0.04,"y":2.9},{"s":"100nm, 10%","x":0.05,"y":2.85},{"s":"100nm, 10%","x":0.06,"y":2.8},{"s":"100nm, 10%","x":0.08,"y":2.65},{"s":"100nm, 10%","x":0.1,"y":2.55},{"s":"100nm, 10%","x":0.12,"y":2.45},{"s":"100nm, 10%","x":0.15,"y":2.35},{"s":"100nm, 10%","x":0.18,"y":2.4},{"s":"100nm, 10%","x":0.2,"y":2.42},{"s":"100nm, 10%","x":0.24,"y":2.38},{"s":"100nm, 10%","x":0.28,"y":2.4},{"s":"100nm, 10%","x":0.32,"y":2.45},{"s":"100nm, 10%","x":0.36,"y":2.5},{"s":"100nm, 10%","x":0.4,"y":2.5},{"s":"100nm, 10%","x":0.45,"y":2.4},{"s":"100nm, 10%","x":0.5,"y":2.35},
{"s":"50nm, 15%","x":0.002,"y":0},{"s":"50nm, 15%","x":0.006,"y":0.8},{"s":"50nm, 15%","x":0.01,"y":1.5},{"s":"50nm, 15%","x":0.02,"y":2.2},{"s":"50nm, 15%","x":0.03,"y":2.6},{"s":"50nm, 15%","x":0.04,"y":2.9},{"s":"50nm, 15%","x":0.05,"y":3},{"s":"50nm, 15%","x":0.06,"y":3.15},{"s":"50nm, 15%","x":0.07,"y":3.1},{"s":"50nm, 15%","x":0.08,"y":3.2},{"s":"50nm, 15%","x":0.09,"y":3.35},{"s":"50nm, 15%","x":0.1,"y":3.3},{"s":"50nm, 15%","x":0.11,"y":3.2},{"s":"50nm, 15%","x":0.12,"y":3.25},{"s":"50nm, 15%","x":0.13,"y":3.2},{"s":"50nm, 15%","x":0.15,"y":3.22},{"s":"50nm, 15%","x":0.16,"y":3.1},{"s":"50nm, 15%","x":0.17,"y":2.9},{"s":"50nm, 15%","x":0.19,"y":2.85},{"s":"50nm, 15%","x":0.2,"y":2.9},{"s":"50nm, 15%","x":0.22,"y":2.8},{"s":"50nm, 15%","x":0.25,"y":2.75},{"s":"50nm, 15%","x":0.28,"y":2.6},{"s":"50nm, 15%","x":0.3,"y":2.55},{"s":"50nm, 15%","x":0.33,"y":2.6},{"s":"50nm, 15%","x":0.36,"y":2.5},{"s":"50nm, 15%","x":0.38,"y":2.55},{"s":"50nm, 15%","x":0.4,"y":2.55},{"s":"50nm, 15%","x":0.43,"y":2.45},{"s":"50nm, 15%","x":0.46,"y":2.45},{"s":"50nm, 15%","x":0.5,"y":2.55},
{"s":"25nm, 15%","x":0.002,"y":0},{"s":"25nm, 15%","x":0.006,"y":0.7},{"s":"25nm, 15%","x":0.01,"y":1.4},{"s":"25nm, 15%","x":0.02,"y":2.1},{"s":"25nm, 15%","x":0.03,"y":2.6},{"s":"25nm, 15%","x":0.04,"y":2.8},{"s":"25nm, 15%","x":0.05,"y":2.95},{"s":"25nm, 15%","x":0.06,"y":3},{"s":"25nm, 15%","x":0.08,"y":3.05},{"s":"25nm, 15%","x":0.1,"y":3},{"s":"25nm, 15%","x":0.12,"y":2.95},{"s":"25nm, 15%","x":0.14,"y":2.95},{"s":"25nm, 15%","x":0.16,"y":2.9},{"s":"25nm, 15%","x":0.18,"y":2.85},{"s":"25nm, 15%","x":0.2,"y":2.9},{"s":"25nm, 15%","x":0.22,"y":2.75},{"s":"25nm, 15%","x":0.24,"y":2.5},{"s":"25nm, 15%","x":0.26,"y":2.3},{"s":"25nm, 15%","x":0.28,"y":2.25},{"s":"25nm, 15%","x":0.3,"y":2.2},{"s":"25nm, 15%","x":0.34,"y":2.2},{"s":"25nm, 15%","x":0.38,"y":2.18},{"s":"25nm, 15%","x":0.42,"y":2.2},{"s":"25nm, 15%","x":0.46,"y":2.15},{"s":"25nm, 15%","x":0.5,"y":2.15},
{"s":"75nm, 15%","x":0.002,"y":0},{"s":"75nm, 15%","x":0.006,"y":0.75},{"s":"75nm, 15%","x":0.01,"y":1.45},{"s":"75nm, 15%","x":0.02,"y":2.15},{"s":"75nm, 15%","x":0.03,"y":2.65},{"s":"75nm, 15%","x":0.04,"y":2.9},{"s":"75nm, 15%","x":0.05,"y":3.05},{"s":"75nm, 15%","x":0.06,"y":3.1},{"s":"75nm, 15%","x":0.07,"y":3.05},{"s":"75nm, 15%","x":0.08,"y":2.95},{"s":"75nm, 15%","x":0.1,"y":2.9},{"s":"75nm, 15%","x":0.12,"y":2.75},{"s":"75nm, 15%","x":0.14,"y":2.65},{"s":"75nm, 15%","x":0.16,"y":2.55},{"s":"75nm, 15%","x":0.18,"y":2.4},{"s":"75nm, 15%","x":0.2,"y":2.3},{"s":"75nm, 15%","x":0.23,"y":2.2},{"s":"75nm, 15%","x":0.26,"y":2.15},{"s":"75nm, 15%","x":0.3,"y":2.05},{"s":"75nm, 15%","x":0.33,"y":2.1},{"s":"75nm, 15%","x":0.36,"y":2.05},{"s":"75nm, 15%","x":0.4,"y":2.15},{"s":"75nm, 15%","x":0.44,"y":2.2},{"s":"75nm, 15%","x":0.48,"y":2.2},{"s":"75nm, 15%","x":0.5,"y":2.2},
{"s":"50nm, 20%","x":0.003,"y":0},{"s":"50nm, 20%","x":0.007,"y":0.8},{"s":"50nm, 20%","x":0.01,"y":1.3},{"s":"50nm, 20%","x":0.02,"y":2},{"s":"50nm, 20%","x":0.03,"y":2.5},{"s":"50nm, 20%","x":0.04,"y":2.8},{"s":"50nm, 20%","x":0.05,"y":2.95},{"s":"50nm, 20%","x":0.06,"y":3},{"s":"50nm, 20%","x":0.07,"y":3.05},{"s":"50nm, 20%","x":0.08,"y":3.1},{"s":"50nm, 20%","x":0.09,"y":3.15},{"s":"50nm, 20%","x":0.1,"y":3.1},{"s":"50nm, 20%","x":0.11,"y":3},{"s":"50nm, 20%","x":0.12,"y":2.8},{"s":"50nm, 20%","x":0.13,"y":2.6},{"s":"50nm, 20%","x":0.14,"y":2.45},{"s":"50nm, 20%","x":0.16,"y":2.4},{"s":"50nm, 20%","x":0.18,"y":2.35},{"s":"50nm, 20%","x":0.2,"y":2.3},{"s":"50nm, 20%","x":0.22,"y":2.35},{"s":"50nm, 20%","x":0.25,"y":2.3},{"s":"50nm, 20%","x":0.27,"y":2.45},{"s":"50nm, 20%","x":0.3,"y":2.55},{"s":"50nm, 20%","x":0.33,"y":2.6},{"s":"50nm, 20%","x":0.36,"y":2.55},{"s":"50nm, 20%","x":0.38,"y":2.65},{"s":"50nm, 20%","x":0.4,"y":2.7},{"s":"50nm, 20%","x":0.42,"y":2.6},{"s":"50nm, 20%","x":0.45,"y":2.5},{"s":"50nm, 20%","x":0.48,"y":2.45},{"s":"50nm, 20%","x":0.5,"y":2.45},
{"s":"25nm, 20%","x":0.003,"y":0},{"s":"25nm, 20%","x":0.007,"y":0.75},{"s":"25nm, 20%","x":0.01,"y":1.25},{"s":"25nm, 20%","x":0.02,"y":1.95},{"s":"25nm, 20%","x":0.03,"y":2.45},{"s":"25nm, 20%","x":0.04,"y":2.75},{"s":"25nm, 20%","x":0.05,"y":2.9},{"s":"25nm, 20%","x":0.06,"y":3},{"s":"25nm, 20%","x":0.08,"y":3},{"s":"25nm, 20%","x":0.1,"y":2.9},{"s":"25nm, 20%","x":0.11,"y":2.85},{"s":"25nm, 20%","x":0.12,"y":2.7},{"s":"25nm, 20%","x":0.14,"y":2.5},{"s":"25nm, 20%","x":0.16,"y":2.35},{"s":"25nm, 20%","x":0.18,"y":2.15},{"s":"25nm, 20%","x":0.2,"y":2},{"s":"25nm, 20%","x":0.22,"y":2.1},{"s":"25nm, 20%","x":0.25,"y":2.15},{"s":"25nm, 20%","x":0.28,"y":2.15},{"s":"25nm, 20%","x":0.3,"y":2.2},{"s":"25nm, 20%","x":0.34,"y":2.2},{"s":"25nm, 20%","x":0.38,"y":2.25},{"s":"25nm, 20%","x":0.42,"y":2.25},{"s":"25nm, 20%","x":0.46,"y":2.3},{"s":"25nm, 20%","x":0.5,"y":2.4},
{"s":"100nm, 20%","x":0.003,"y":0},{"s":"100nm, 20%","x":0.007,"y":0.8},{"s":"100nm, 20%","x":0.01,"y":1.3},{"s":"100nm, 20%","x":0.02,"y":2.05},{"s":"100nm, 20%","x":0.03,"y":2.5},{"s":"100nm, 20%","x":0.04,"y":2.8},{"s":"100nm, 20%","x":0.05,"y":2.95},{"s":"100nm, 20%","x":0.07,"y":3.1},{"s":"100nm, 20%","x":0.09,"y":3.2},{"s":"100nm, 20%","x":0.1,"y":3.15},{"s":"100nm, 20%","x":0.11,"y":3.2},{"s":"100nm, 20%","x":0.12,"y":3},{"s":"100nm, 20%","x":0.13,"y":2.9},{"s":"100nm, 20%","x":0.15,"y":2.6},{"s":"100nm, 20%","x":0.17,"y":2.45},{"s":"100nm, 20%","x":0.2,"y":2.35},{"s":"100nm, 20%","x":0.23,"y":2.25},{"s":"100nm, 20%","x":0.26,"y":2.2},{"s":"100nm, 20%","x":0.3,"y":2.1},{"s":"100nm, 20%","x":0.33,"y":2.05},{"s":"100nm, 20%","x":0.36,"y":2.1},{"s":"100nm, 20%","x":0.4,"y":2.2},{"s":"100nm, 20%","x":0.44,"y":2.25},{"s":"100nm, 20%","x":0.48,"y":2.3},{"s":"100nm, 20%","x":0.5,"y":2.35}
],
"I":[
{"s":"50nm, 5%","x":0,"y":0.5},{"s":"50nm, 5%","x":0.01,"y":1.5},{"s":"50nm, 5%","x":0.02,"y":2.1},{"s":"50nm, 5%","x":0.03,"y":2.5},{"s":"50nm, 5%","x":0.04,"y":2.8},{"s":"50nm, 5%","x":0.05,"y":3},{"s":"50nm, 5%","x":0.06,"y":3.2},{"s":"50nm, 5%","x":0.07,"y":3.4},{"s":"50nm, 5%","x":0.08,"y":3.8},{"s":"50nm, 5%","x":0.09,"y":4.2},{"s":"50nm, 5%","x":0.1,"y":4.5},{"s":"50nm, 5%","x":0.11,"y":4.5},{"s":"50nm, 5%","x":0.12,"y":4.6},{"s":"50nm, 5%","x":0.13,"y":4.5},{"s":"50nm, 5%","x":0.14,"y":4.7},{"s":"50nm, 5%","x":0.15,"y":5},{"s":"50nm, 5%","x":0.17,"y":5.3},{"s":"50nm, 5%","x":0.2,"y":5.8},{"s":"50nm, 5%","x":0.22,"y":6},{"s":"50nm, 5%","x":0.25,"y":6.3},{"s":"50nm, 5%","x":0.27,"y":6.4},{"s":"50nm, 5%","x":0.3,"y":6.5},{"s":"50nm, 5%","x":0.32,"y":6.7},{"s":"50nm, 5%","x":0.35,"y":6.6},{"s":"50nm, 5%","x":0.38,"y":6.7},{"s":"50nm, 5%","x":0.4,"y":6.8},{"s":"50nm, 5%","x":0.42,"y":7},{"s":"50nm, 5%","x":0.45,"y":7},{"s":"50nm, 5%","x":0.48,"y":7.1},{"s":"50nm, 5%","x":0.5,"y":7.2},
{"s":"25nm, 5%","x":0,"y":0.5},{"s":"25nm, 5%","x":0.02,"y":2},{"s":"25nm, 5%","x":0.04,"y":2.7},{"s":"25nm, 5%","x":0.06,"y":3.2},{"s":"25nm, 5%","x":0.08,"y":3.8},{"s":"25nm, 5%","x":0.1,"y":4.3},{"s":"25nm, 5%","x":0.12,"y":4.6},{"s":"25nm, 5%","x":0.15,"y":5},{"s":"25nm, 5%","x":0.18,"y":5.4},{"s":"25nm, 5%","x":0.2,"y":5.5},{"s":"25nm, 5%","x":0.22,"y":5.8},{"s":"25nm, 5%","x":0.24,"y":6.2},{"s":"25nm, 5%","x":0.26,"y":6},{"s":"25nm, 5%","x":0.28,"y":6.1},{"s":"25nm, 5%","x":0.3,"y":6.2},{"s":"25nm, 5%","x":0.33,"y":6.5},{"s":"25nm, 5%","x":0.36,"y":6.7},{"s":"25nm, 5%","x":0.4,"y":6.8},{"s":"25nm, 5%","x":0.42,"y":6.7},{"s":"25nm, 5%","x":0.44,"y":6.7},{"s":"25nm, 5%","x":0.46,"y":6.9},{"s":"25nm, 5%","x":0.5,"y":7.1},
{"s":"50nm, 10%","x":0,"y":0.6},{"s":"50nm, 10%","x":0.02,"y":2.1},{"s":"50nm, 10%","x":0.04,"y":2.9},{"s":"50nm, 10%","x":0.06,"y":3.6},{"s":"50nm, 10%","x":0.08,"y":4.2},{"s":"50nm, 10%","x":0.1,"y":4.7},{"s":"50nm, 10%","x":0.12,"y":5.2},{"s":"50nm, 10%","x":0.15,"y":5.8},{"s":"50nm, 10%","x":0.18,"y":6.3},{"s":"50nm, 10%","x":0.2,"y":6.5},{"s":"50nm, 10%","x":0.22,"y":6.7},{"s":"50nm, 10%","x":0.25,"y":7.1},{"s":"50nm, 10%","x":0.28,"y":7.6},{"s":"50nm, 10%","x":0.3,"y":7.9},{"s":"50nm, 10%","x":0.33,"y":8.2},{"s":"50nm, 10%","x":0.36,"y":8.5},{"s":"50nm, 10%","x":0.4,"y":8.8},{"s":"50nm, 10%","x":0.43,"y":9},{"s":"50nm, 10%","x":0.46,"y":9.3},{"s":"50nm, 10%","x":0.5,"y":9.7},
{"s":"25nm, 10%","x":0,"y":0.6},{"s":"25nm, 10%","x":0.02,"y":2},{"s":"25nm, 10%","x":0.04,"y":2.8},{"s":"25nm, 10%","x":0.06,"y":3.5},{"s":"25nm, 10%","x":0.08,"y":4.1},{"s":"25nm, 10%","x":0.1,"y":4.6},{"s":"25nm, 10%","x":0.12,"y":5.1},{"s":"25nm, 10%","x":0.15,"y":5.6},{"s":"25nm, 10%","x":0.18,"y":6.1},{"s":"25nm, 10%","x":0.2,"y":6.5},{"s":"25nm, 10%","x":0.22,"y":6.4},{"s":"25nm, 10%","x":0.25,"y":7},{"s":"25nm, 10%","x":0.28,"y":7.4},{"s":"25nm, 10%","x":0.3,"y":7.6},{"s":"25nm, 10%","x":0.33,"y":7.8},{"s":"25nm, 10%","x":0.36,"y":8.1},{"s":"25nm, 10%","x":0.4,"y":8.5},{"s":"25nm, 10%","x":0.43,"y":8.6},{"s":"25nm, 10%","x":0.46,"y":8.5},{"s":"25nm, 10%","x":0.5,"y":8.7},
{"s":"100nm, 10%","x":0,"y":0.6},{"s":"100nm, 10%","x":0.02,"y":2.1},{"s":"100nm, 10%","x":0.04,"y":3},{"s":"100nm, 10%","x":0.06,"y":3.7},{"s":"100nm, 10%","x":0.08,"y":4.4},{"s":"100nm, 10%","x":0.1,"y":5},{"s":"100nm, 10%","x":0.12,"y":5.5},{"s":"100nm, 10%","x":0.15,"y":6.2},{"s":"100nm, 10%","x":0.18,"y":6.8},{"s":"100nm, 10%","x":0.2,"y":7.2},{"s":"100nm, 10%","x":0.22,"y":7.4},{"s":"100nm, 10%","x":0.25,"y":7.7},{"s":"100nm, 10%","x":0.28,"y":8},{"s":"100nm, 10%","x":0.3,"y":8.2},{"s":"100nm, 10%","x":0.33,"y":8.5},{"s":"100nm, 10%","x":0.36,"y":8.8},{"s":"100nm, 10%","x":0.4,"y":9.1},{"s":"100nm, 10%","x":0.43,"y":9.3},{"s":"100nm, 10%","x":0.46,"y":9.5},{"s":"100nm, 10%","x":0.5,"y":9.8},
{"s":"50nm, 15%","x":0,"y":0.6},{"s":"50nm, 15%","x":0.02,"y":2.2},{"s":"50nm, 15%","x":0.04,"y":3.1},{"s":"50nm, 15%","x":0.06,"y":3.9},{"s":"50nm, 15%","x":0.08,"y":4.6},{"s":"50nm, 15%","x":0.1,"y":5.2},{"s":"50nm, 15%","x":0.12,"y":5.8},{"s":"50nm, 15%","x":0.15,"y":6.5},{"s":"50nm, 15%","x":0.18,"y":7},{"s":"50nm, 15%","x":0.2,"y":7.2},{"s":"50nm, 15%","x":0.22,"y":7.5},{"s":"50nm, 15%","x":0.25,"y":7.8},{"s":"50nm, 15%","x":0.28,"y":8.2},{"s":"50nm, 15%","x":0.3,"y":8.4},{"s":"50nm, 15%","x":0.33,"y":8.7},{"s":"50nm, 15%","x":0.36,"y":9},{"s":"50nm, 15%","x":0.4,"y":9.3},{"s":"50nm, 15%","x":0.43,"y":9.5},{"s":"50nm, 15%","x":0.46,"y":9.8},{"s":"50nm, 15%","x":0.5,"y":10},
{"s":"25nm, 15%","x":0,"y":0.6},{"s":"25nm, 15%","x":0.02,"y":2.1},{"s":"25nm, 15%","x":0.04,"y":3},{"s":"25nm, 15%","x":0.06,"y":3.8},{"s":"25nm, 15%","x":0.08,"y":4.5},{"s":"25nm, 15%","x":0.1,"y":5},{"s":"25nm, 15%","x":0.12,"y":5.6},{"s":"25nm, 15%","x":0.15,"y":6.3},{"s":"25nm, 15%","x":0.18,"y":6.9},{"s":"25nm, 15%","x":0.2,"y":7},{"s":"25nm, 15%","x":0.23,"y":6.6},{"s":"25nm, 15%","x":0.25,"y":6.8},{"s":"25nm, 15%","x":0.28,"y":7.5},{"s":"25nm, 15%","x":0.3,"y":8},{"s":"25nm, 15%","x":0.33,"y":8.5},{"s":"25nm, 15%","x":0.36,"y":8.8},{"s":"25nm, 15%","x":0.4,"y":9.3},{"s":"25nm, 15%","x":0.43,"y":9.5},{"s":"25nm, 15%","x":0.46,"y":10},{"s":"25nm, 15%","x":0.48,"y":10.4},{"s":"25nm, 15%","x":0.5,"y":10.9},
{"s":"75nm, 15%","x":0,"y":0.6},{"s":"75nm, 15%","x":0.02,"y":2.2},{"s":"75nm, 15%","x":0.04,"y":3.2},{"s":"75nm, 15%","x":0.06,"y":4},{"s":"75nm, 15%","x":0.08,"y":4.8},{"s":"75nm, 15%","x":0.1,"y":5.5},{"s":"75nm, 15%","x":0.12,"y":6},{"s":"75nm, 15%","x":0.15,"y":6.6},{"s":"75nm, 15%","x":0.18,"y":7.1},{"s":"75nm, 15%","x":0.2,"y":7.4},{"s":"75nm, 15%","x":0.25,"y":7.8},{"s":"75nm, 15%","x":0.3,"y":8.2},{"s":"75nm, 15%","x":0.33,"y":8.5},{"s":"75nm, 15%","x":0.36,"y":8.6},{"s":"75nm, 15%","x":0.4,"y":8.5},{"s":"75nm, 15%","x":0.43,"y":8.6},{"s":"75nm, 15%","x":0.46,"y":9},{"s":"75nm, 15%","x":0.5,"y":9.8},
{"s":"50nm, 20%","x":0,"y":0.6},{"s":"50nm, 20%","x":0.02,"y":2.1},{"s":"50nm, 20%","x":0.04,"y":3},{"s":"50nm, 20%","x":0.06,"y":3.7},{"s":"50nm, 20%","x":0.08,"y":4.3},{"s":"50nm, 20%","x":0.1,"y":4.8},{"s":"50nm, 20%","x":0.12,"y":5.2},{"s":"50nm, 20%","x":0.15,"y":5.6},{"s":"50nm, 20%","x":0.18,"y":5.9},{"s":"50nm, 20%","x":0.2,"y":6.1},{"s":"50nm, 20%","x":0.22,"y":6.3},{"s":"50nm, 20%","x":0.25,"y":6.9},{"s":"50nm, 20%","x":0.28,"y":7.6},{"s":"50nm, 20%","x":0.3,"y":8},{"s":"50nm, 20%","x":0.33,"y":8.4},{"s":"50nm, 20%","x":0.36,"y":8.9},{"s":"50nm, 20%","x":0.38,"y":9.3},{"s":"50nm, 20%","x":0.4,"y":9.5},{"s":"50nm, 20%","x":0.43,"y":9.4},{"s":"50nm, 20%","x":0.46,"y":9.2},{"s":"50nm, 20%","x":0.5,"y":9.2},
{"s":"25nm, 20%","x":0,"y":0.6},{"s":"25nm, 20%","x":0.02,"y":2.2},{"s":"25nm, 20%","x":0.04,"y":3.2},{"s":"25nm, 20%","x":0.06,"y":4},{"s":"25nm, 20%","x":0.08,"y":4.7},{"s":"25nm, 20%","x":0.1,"y":5.4},{"s":"25nm, 20%","x":0.12,"y":6.2},{"s":"25nm, 20%","x":0.13,"y":6.6},{"s":"25nm, 20%","x":0.15,"y":6.8},{"s":"25nm, 20%","x":0.18,"y":7.5},{"s":"25nm, 20%","x":0.2,"y":7.9},{"s":"25nm, 20%","x":0.22,"y":8.2},{"s":"25nm, 20%","x":0.25,"y":8.6},{"s":"25nm, 20%","x":0.28,"y":9},{"s":"25nm, 20%","x":0.3,"y":9.2},{"s":"25nm, 20%","x":0.33,"y":9.6},{"s":"25nm, 20%","x":0.35,"y":9.9},{"s":"25nm, 20%","x":0.38,"y":9.6},{"s":"25nm, 20%","x":0.4,"y":9.7},{"s":"25nm, 20%","x":0.43,"y":9.5},{"s":"25nm, 20%","x":0.46,"y":9.8},{"s":"25nm, 20%","x":0.5,"y":10.1},
{"s":"100nm, 20%","x":0,"y":0.6},{"s":"100nm, 20%","x":0.02,"y":2.2},{"s":"100nm, 20%","x":0.04,"y":3.1},{"s":"100nm, 20%","x":0.06,"y":3.9},{"s":"100nm, 20%","x":0.08,"y":4.6},{"s":"100nm, 20%","x":0.1,"y":5.2},{"s":"100nm, 20%","x":0.12,"y":5.8},{"s":"100nm, 20%","x":0.15,"y":6.5},{"s":"100nm, 20%","x":0.18,"y":7.2},{"s":"100nm, 20%","x":0.2,"y":7.6},{"s":"100nm, 20%","x":0.25,"y":8.2},{"s":"100nm, 20%","x":0.28,"y":8.5},{"s":"100nm, 20%","x":0.3,"y":8.6},{"s":"100nm, 20%","x":0.33,"y":8.7},{"s":"100nm, 20%","x":0.36,"y":8.9},{"s":"100nm, 20%","x":0.4,"y":9.2},{"s":"100nm, 20%","x":0.43,"y":9.4},{"s":"100nm, 20%","x":0.46,"y":9.5},{"s":"100nm, 20%","x":0.5,"y":9.6}
]
},
"concat":[
{"width":184,"height":142,"title":{"text":"A","dx":-37},
"data":{"name":"A"},"mark":{"type":"line","strokeWidth":1.1},
"encoding":{
"x":{"field":"x","type":"quantitative","scale":{"domain":[0,20],"nice":false},"axis":{"values":[0,5,10,15,20],"title":"glucan surface area (%)","format":".6~g"}},
"y":{"field":"y","type":"quantitative","scale":{"domain":[0,1],"nice":false},"axis":{"values":[0,0.2,0.4,0.6,0.8,1],"title":"mean fraction of singlets","format":".6~g"}},
"color":{"field":"s","type":"nominal","scale":{"domain":["25nm, 5%","25nm, 10%","25nm, 15%","25nm, 20%","50nm, 5%","50nm, 10%","50nm, 15%","50nm, 20%","75nm, 15%","100nm, 10%","100nm, 20%"],"range":["#ff0000","#00e600","#1010ee","#000000","#ff0000","#00e600","#1010ee","#000000","#1010ee","#00e600","#000000"]},"legend":null},
"strokeDash":{"field":"s","type":"nominal","scale":{"domain":["25nm, 5%","25nm, 10%","25nm, 15%","25nm, 20%","50nm, 5%","50nm, 10%","50nm, 15%","50nm, 20%","75nm, 15%","100nm, 10%","100nm, 20%"],"range":[[4,3],[4,3],[4,3],[4,3],[1,0],[1,0],[1,0],[1,0],[1.2,1.5],[4,2,1.2,2],[4,2,1.2,2]]},"legend":null}}},
{"width":186,"height":142,"title":{"text":"B","dx":-45},
"data":{"name":"B"},"mark":{"type":"line","strokeWidth":1.1},
"encoding":{
"x":{"field":"x","type":"quantitative","scale":{"domain":[0,20],"nice":false},"axis":{"values":[0,5,10,15,20],"title":"glucan surface area (%)","format":".6~g"}},
"y":{"field":"y","type":"quantitative","scale":{"domain":[0,300],"nice":false},"axis":{"values":[0,50,100,150,200,250,300],"title":"mean radius of multiplets (nm)","format":".6~g"}},
"color":{"field":"s","type":"nominal","scale":{"domain":["25nm, 5%","25nm, 10%","25nm, 15%","25nm, 20%","50nm, 5%","50nm, 10%","50nm, 15%","50nm, 20%","75nm, 15%","100nm, 10%","100nm, 20%"],"range":["#ff0000","#00e600","#1010ee","#000000","#ff0000","#00e600","#1010ee","#000000","#1010ee","#00e600","#000000"]},"legend":null},
"strokeDash":{"field":"s","type":"nominal","scale":{"domain":["25nm, 5%","25nm, 10%","25nm, 15%","25nm, 20%","50nm, 5%","50nm, 10%","50nm, 15%","50nm, 20%","75nm, 15%","100nm, 10%","100nm, 20%"],"range":[[4,3],[4,3],[4,3],[4,3],[1,0],[1,0],[1,0],[1,0],[1.2,1.5],[4,2,1.2,2],[4,2,1.2,2]]},"legend":null}}},
{"width":186,"height":142,"title":{"text":"C","dx":-51,"offset":-21},
"data":{"name":"C"},"mark":{"type":"line","strokeWidth":1.1},
"encoding":{
"x":{"field":"x","type":"quantitative","scale":{"domain":[0,20],"nice":false},"axis":{"values":[0,5,10,15,20],"title":"glucan surface area (%)","format":".6~g"}},
"y":{"field":"y","type":"quantitative","scale":{"domain":[0,700],"nice":false},"axis":{"values":[0,100,200,300,400,500,600,700],"title":"mean glucan exposure density (μm⁻²)","format":".6~g"}},
"color":{"field":"s","type":"nominal","scale":{"domain":["25nm, 5%","25nm, 10%","25nm, 15%","25nm, 20%","50nm, 5%","50nm, 10%","50nm, 15%","50nm, 20%","75nm, 15%","100nm, 10%","100nm, 20%"],"range":["#ff0000","#00e600","#1010ee","#000000","#ff0000","#00e600","#1010ee","#000000","#1010ee","#00e600","#000000"]},"legend":{"orient":"none","legendX":113,"legendY":6,"title":null,"symbolType":"M-1.5,0L1.5,0","symbolSize":64,"symbolStrokeWidth":1.2,"labelFontSize":9,"labelFont":"Liberation Sans","labelColor":"#262626","labelOffset":4,"rowPadding":-1.2,"padding":0}},
"strokeDash":{"field":"s","type":"nominal","scale":{"domain":["25nm, 5%","25nm, 10%","25nm, 15%","25nm, 20%","50nm, 5%","50nm, 10%","50nm, 15%","50nm, 20%","75nm, 15%","100nm, 10%","100nm, 20%"],"range":[[4,3],[4,3],[4,3],[4,3],[1,0],[1,0],[1,0],[1,0],[1.2,1.5],[4,2,1.2,2],[4,2,1.2,2]]},"legend":{"orient":"none","legendX":113,"legendY":6,"title":null,"symbolType":"M-1.5,0L1.5,0","symbolSize":64,"symbolStrokeWidth":1.2,"labelFontSize":9,"labelFont":"Liberation Sans","labelColor":"#262626","labelOffset":4,"rowPadding":-1.2,"padding":0}}}},
{"width":184,"height":142,"title":{"text":"D","dx":-37},"layer":[
{"data":{"name":"D"},"mark":{"type":"line","strokeWidth":1.1},
"encoding":{
"x":{"field":"x","type":"quantitative","scale":{"domain":[0,0.5],"nice":false},"axis":{"values":[0,0.1,0.2,0.3,0.4,0.5],"title":"glucan surface area (%)","format":".6~g"}},
"y":{"field":"y","type":"quantitative","scale":{"domain":[0.65,1],"nice":false,"zero":false},"axis":{"values":[0.65,0.7,0.75,0.8,0.85,0.9,0.95,1],"title":"mean fraction of singlets","format":".6~g"}},
"color":{"field":"s","type":"nominal","scale":{"domain":["25nm, 5%","25nm, 10%","25nm, 15%","25nm, 20%","50nm, 5%","50nm, 10%","50nm, 15%","50nm, 20%","75nm, 15%","100nm, 10%","100nm, 20%"],"range":["#ff0000","#00e600","#1010ee","#000000","#ff0000","#00e600","#1010ee","#000000","#1010ee","#00e600","#000000"]},"legend":null},
"strokeDash":{"field":"s","type":"nominal","scale":{"domain":["25nm, 5%","25nm, 10%","25nm, 15%","25nm, 20%","50nm, 5%","50nm, 10%","50nm, 15%","50nm, 20%","75nm, 15%","100nm, 10%","100nm, 20%"],"range":[[4,3],[4,3],[4,3],[4,3],[1,0],[1,0],[1,0],[1,0],[1.2,1.5],[4,2,1.2,2],[4,2,1.2,2]]},"legend":null}}},
{"data":{"name":"bD"},"mark":{"type":"rect","fill":"#80f4f4","stroke":"#2b4a4a","strokeWidth":0.9},"encoding":{"x":{"field":"x1","type":"quantitative","scale":{"domain":[0,0.5],"nice":false},"axis":{"values":[0,0.1,0.2,0.3,0.4,0.5],"title":"glucan surface area (%)","format":".6~g"}},"x2":{"field":"x2"},"y":{"field":"y1","type":"quantitative","scale":{"domain":[0.65,1],"nice":false,"zero":false},"axis":{"values":[0.65,0.7,0.75,0.8,0.85,0.9,0.95,1],"title":"mean fraction of singlets","format":".6~g"}},"y2":{"field":"y2"}}},
{"data":{"name":"bD"},"mark":{"type":"rule","color":"#2b4a4a","strokeWidth":0.9},"encoding":{"x":{"field":"xm","type":"quantitative","scale":{"domain":[0,0.5],"nice":false},"axis":{"values":[0,0.1,0.2,0.3,0.4,0.5],"title":"glucan surface area (%)","format":".6~g"}},"y":{"field":"y1","type":"quantitative","scale":{"domain":[0.65,1],"nice":false,"zero":false},"axis":{"values":[0.65,0.7,0.75,0.8,0.85,0.9,0.95,1],"title":"mean fraction of singlets","format":".6~g"}},"y2":{"field":"y2"}}},
{"data":{"name":"bD"},"mark":{"type":"rule","color":"#2b4a4a","strokeWidth":0.9},"encoding":{"y":{"field":"ym","type":"quantitative","scale":{"domain":[0.65,1],"nice":false,"zero":false},"axis":{"values":[0.65,0.7,0.75,0.8,0.85,0.9,0.95,1],"title":"mean fraction of singlets","format":".6~g"}},"x":{"field":"x1","type":"quantitative","scale":{"domain":[0,0.5],"nice":false},"axis":{"values":[0,0.1,0.2,0.3,0.4,0.5],"title":"glucan surface area (%)","format":".6~g"}},"x2":{"field":"x2"}}}
]},
{"width":186,"height":142,"title":{"text":"E","dx":-45},"layer":[
{"data":{"name":"E"},"mark":{"type":"line","strokeWidth":1.1},
"encoding":{
"x":{"field":"x","type":"quantitative","scale":{"domain":[0,0.5],"nice":false},"axis":{"values":[0,0.1,0.2,0.3,0.4,0.5],"title":"glucan surface area (%)","format":".6~g"}},
"y":{"field":"y","type":"quantitative","scale":{"domain":[0,35],"nice":false},"axis":{"values":[0,5,10,15,20,25,30,35],"title":"mean radius of multiplets (nm)","format":".6~g"}},
"color":{"field":"s","type":"nominal","scale":{"domain":["25nm, 5%","25nm, 10%","25nm, 15%","25nm, 20%","50nm, 5%","50nm, 10%","50nm, 15%","50nm, 20%","75nm, 15%","100nm, 10%","100nm, 20%"],"range":["#ff0000","#00e600","#1010ee","#000000","#ff0000","#00e600","#1010ee","#000000","#1010ee","#00e600","#000000"]},"legend":null},
"strokeDash":{"field":"s","type":"nominal","scale":{"domain":["25nm, 5%","25nm, 10%","25nm, 15%","25nm, 20%","50nm, 5%","50nm, 10%","50nm, 15%","50nm, 20%","75nm, 15%","100nm, 10%","100nm, 20%"],"range":[[4,3],[4,3],[4,3],[4,3],[1,0],[1,0],[1,0],[1,0],[1.2,1.5],[4,2,1.2,2],[4,2,1.2,2]]},"legend":null}}},
{"data":{"name":"bE"},"mark":{"type":"rect","fill":"#80f4f4","stroke":"#2b4a4a","strokeWidth":0.9},"encoding":{"x":{"field":"x1","type":"quantitative","scale":{"domain":[0,0.5],"nice":false},"axis":{"values":[0,0.1,0.2,0.3,0.4,0.5],"title":"glucan surface area (%)","format":".6~g"}},"x2":{"field":"x2"},"y":{"field":"y1","type":"quantitative","scale":{"domain":[0,35],"nice":false},"axis":{"values":[0,5,10,15,20,25,30,35],"title":"mean radius of multiplets (nm)","format":".6~g"}},"y2":{"field":"y2"}}},
{"data":{"name":"bE"},"mark":{"type":"rule","color":"#2b4a4a","strokeWidth":0.9},"encoding":{"x":{"field":"xm","type":"quantitative","scale":{"domain":[0,0.5],"nice":false},"axis":{"values":[0,0.1,0.2,0.3,0.4,0.5],"title":"glucan surface area (%)","format":".6~g"}},"y":{"field":"y1","type":"quantitative","scale":{"domain":[0,35],"nice":false},"axis":{"values":[0,5,10,15,20,25,30,35],"title":"mean radius of multiplets (nm)","format":".6~g"}},"y2":{"field":"y2"}}},
{"data":{"name":"bE"},"mark":{"type":"rule","color":"#2b4a4a","strokeWidth":0.9},"encoding":{"y":{"field":"ym","type":"quantitative","scale":{"domain":[0,35],"nice":false},"axis":{"values":[0,5,10,15,20,25,30,35],"title":"mean radius of multiplets (nm)","format":".6~g"}},"x":{"field":"x1","type":"quantitative","scale":{"domain":[0,0.5],"nice":false},"axis":{"values":[0,0.1,0.2,0.3,0.4,0.5],"title":"glucan surface area (%)","format":".6~g"}},"x2":{"field":"x2"}}}
]},
{"width":186,"height":142,"title":{"text":"F","dx":-48,"offset":-21},"layer":[
{"data":{"name":"F"},"mark":{"type":"line","strokeWidth":1.1},
"encoding":{
"x":{"field":"x","type":"quantitative","scale":{"domain":[0,0.5],"nice":false},"axis":{"values":[0,0.1,0.2,0.3,0.4,0.5],"title":"glucan surface area (%)","format":".6~g"}},
"y":{"field":"y","type":"quantitative","scale":{"domain":[0,160],"nice":false},"axis":{"values":[0,20,40,60,80,100,120,140,160],"title":"mean glucan exposure density (μm⁻²)","format":".6~g"}},
"color":{"field":"s","type":"nominal","scale":{"domain":["25nm, 5%","25nm, 10%","25nm, 15%","25nm, 20%","50nm, 5%","50nm, 10%","50nm, 15%","50nm, 20%","75nm, 15%","100nm, 10%","100nm, 20%"],"range":["#ff0000","#00e600","#1010ee","#000000","#ff0000","#00e600","#1010ee","#000000","#1010ee","#00e600","#000000"]},"legend":null},
"strokeDash":{"field":"s","type":"nominal","scale":{"domain":["25nm, 5%","25nm, 10%","25nm, 15%","25nm, 20%","50nm, 5%","50nm, 10%","50nm, 15%","50nm, 20%","75nm, 15%","100nm, 10%","100nm, 20%"],"range":[[4,3],[4,3],[4,3],[4,3],[1,0],[1,0],[1,0],[1,0],[1.2,1.5],[4,2,1.2,2],[4,2,1.2,2]]},"legend":null}}},
{"data":{"name":"bF"},"mark":{"type":"rect","fill":"#80f4f4","stroke":"#2b4a4a","strokeWidth":0.9},"encoding":{"x":{"field":"x1","type":"quantitative","scale":{"domain":[0,0.5],"nice":false},"axis":{"values":[0,0.1,0.2,0.3,0.4,0.5],"title":"glucan surface area (%)","format":".6~g"}},"x2":{"field":"x2"},"y":{"field":"y1","type":"quantitative","scale":{"domain":[0,160],"nice":false},"axis":{"values":[0,20,40,60,80,100,120,140,160],"title":"mean glucan exposure density (μm⁻²)","format":".6~g"}},"y2":{"field":"y2"}}},
{"data":{"name":"bF"},"mark":{"type":"rule","color":"#2b4a4a","strokeWidth":0.9},"encoding":{"x":{"field":"xm","type":"quantitative","scale":{"domain":[0,0.5],"nice":false},"axis":{"values":[0,0.1,0.2,0.3,0.4,0.5],"title":"glucan surface area (%)","format":".6~g"}},"y":{"field":"y1","type":"quantitative","scale":{"domain":[0,160],"nice":false},"axis":{"values":[0,20,40,60,80,100,120,140,160],"title":"mean glucan exposure density (μm⁻²)","format":".6~g"}},"y2":{"field":"y2"}}},
{"data":{"name":"bF"},"mark":{"type":"rule","color":"#2b4a4a","strokeWidth":0.9},"encoding":{"y":{"field":"ym","type":"quantitative","scale":{"domain":[0,160],"nice":false},"axis":{"values":[0,20,40,60,80,100,120,140,160],"title":"mean glucan exposure density (μm⁻²)","format":".6~g"}},"x":{"field":"x1","type":"quantitative","scale":{"domain":[0,0.5],"nice":false},"axis":{"values":[0,0.1,0.2,0.3,0.4,0.5],"title":"glucan surface area (%)","format":".6~g"}},"x2":{"field":"x2"}}}
]},
{"width":184,"height":142,"title":{"text":"G","dx":-37},
"data":{"name":"G"},"mark":{"type":"line","strokeWidth":1.1},
"encoding":{
"x":{"field":"x","type":"quantitative","scale":{"domain":[0,0.5],"nice":false},"axis":{"values":[0,0.1,0.2,0.3,0.4,0.5],"title":"glucan surface area (%)","format":".6~g"}},
"y":{"field":"y","type":"quantitative","scale":{"domain":[0,0.35],"nice":false},"axis":{"values":[0,0.05,0.1,0.15,0.2,0.25,0.3,0.35],"title":"σ of fraction of singlets","format":".6~g"}},
"color":{"field":"s","type":"nominal","scale":{"domain":["25nm, 5%","25nm, 10%","25nm, 15%","25nm, 20%","50nm, 5%","50nm, 10%","50nm, 15%","50nm, 20%","75nm, 15%","100nm, 10%","100nm, 20%"],"range":["#ff0000","#00e600","#1010ee","#000000","#ff0000","#00e600","#1010ee","#000000","#1010ee","#00e600","#000000"]},"legend":null},
"strokeDash":{"field":"s","type":"nominal","scale":{"domain":["25nm, 5%","25nm, 10%","25nm, 15%","25nm, 20%","50nm, 5%","50nm, 10%","50nm, 15%","50nm, 20%","75nm, 15%","100nm, 10%","100nm, 20%"],"range":[[4,3],[4,3],[4,3],[4,3],[1,0],[1,0],[1,0],[1,0],[1.2,1.5],[4,2,1.2,2],[4,2,1.2,2]]},"legend":null}}},
{"width":186,"height":142,"title":{"text":"H","dx":-45},
"data":{"name":"H"},"mark":{"type":"line","strokeWidth":1.1},
"encoding":{
"x":{"field":"x","type":"quantitative","scale":{"domain":[0,0.5],"nice":false},"axis":{"values":[0,0.1,0.2,0.3,0.4,0.5],"title":"glucan surface area (%)","format":".6~g"}},
"y":{"field":"y","type":"quantitative","scale":{"domain":[0,3.5],"nice":false},"axis":{"values":[0,0.5,1,1.5,2,2.5,3,3.5],"title":"σ of radius of multiplets (nm)","format":".6~g"}},
"color":{"field":"s","type":"nominal","scale":{"domain":["25nm, 5%","25nm, 10%","25nm, 15%","25nm, 20%","50nm, 5%","50nm, 10%","50nm, 15%","50nm, 20%","75nm, 15%","100nm, 10%","100nm, 20%"],"range":["#ff0000","#00e600","#1010ee","#000000","#ff0000","#00e600","#1010ee","#000000","#1010ee","#00e600","#000000"]},"legend":null},
"strokeDash":{"field":"s","type":"nominal","scale":{"domain":["25nm, 5%","25nm, 10%","25nm, 15%","25nm, 20%","50nm, 5%","50nm, 10%","50nm, 15%","50nm, 20%","75nm, 15%","100nm, 10%","100nm, 20%"],"range":[[4,3],[4,3],[4,3],[4,3],[1,0],[1,0],[1,0],[1,0],[1.2,1.5],[4,2,1.2,2],[4,2,1.2,2]]},"legend":null}}},
{"width":186,"height":142,"title":{"text":"I","dx":-42,"offset":-18},
"data":{"name":"I"},"mark":{"type":"line","strokeWidth":1.1},
"encoding":{
"x":{"field":"x","type":"quantitative","scale":{"domain":[0,0.5],"nice":false},"axis":{"values":[0,0.1,0.2,0.3,0.4,0.5],"title":"glucan surface area (%)","format":".6~g"}},
"y":{"field":"y","type":"quantitative","scale":{"domain":[0,12],"nice":false},"axis":{"values":[0,2,4,6,8,10,12],"title":"σ of glucan exposure density (μm⁻²)","format":".6~g"}},
"color":{"field":"s","type":"nominal","scale":{"domain":["25nm, 5%","25nm, 10%","25nm, 15%","25nm, 20%","50nm, 5%","50nm, 10%","50nm, 15%","50nm, 20%","75nm, 15%","100nm, 10%","100nm, 20%"],"range":["#ff0000","#00e600","#1010ee","#000000","#ff0000","#00e600","#1010ee","#000000","#1010ee","#00e600","#000000"]},"legend":null},
"strokeDash":{"field":"s","type":"nominal","scale":{"domain":["25nm, 5%","25nm, 10%","25nm, 15%","25nm, 20%","50nm, 5%","50nm, 10%","50nm, 15%","50nm, 20%","75nm, 15%","100nm, 10%","100nm, 20%"],"range":[[4,3],[4,3],[4,3],[4,3],[1,0],[1,0],[1,0],[1,0],[1.2,1.5],[4,2,1.2,2],[4,2,1.2,2]]},"legend":null}}}
],
"config":{
"view":{"stroke":null},
"font":"Liberation Sans",
"title":{"anchor":"start","frame":"group","fontSize":18,"fontWeight":"bold","font":"Liberation Sans","color":"#000000","offset":-15,"baseline":"alphabetic"},
"axis":{"grid":false,"domainColor":"#262626","domainWidth":1,"tickColor":"#262626","tickWidth":1,"tickSize":-3,"labelColor":"#262626","labelFontSize":10.5,"labelFont":"Liberation Sans","titleFont":"Liberation Sans","titleFontSize":10.5,"titleFontWeight":"normal","titleColor":"#262626","labelFlush":false,"labelOverlap":false,"labelPadding":6,"titlePadding":3},
"axisX":{"labelPadding":7,"titlePadding":1}
}
}
